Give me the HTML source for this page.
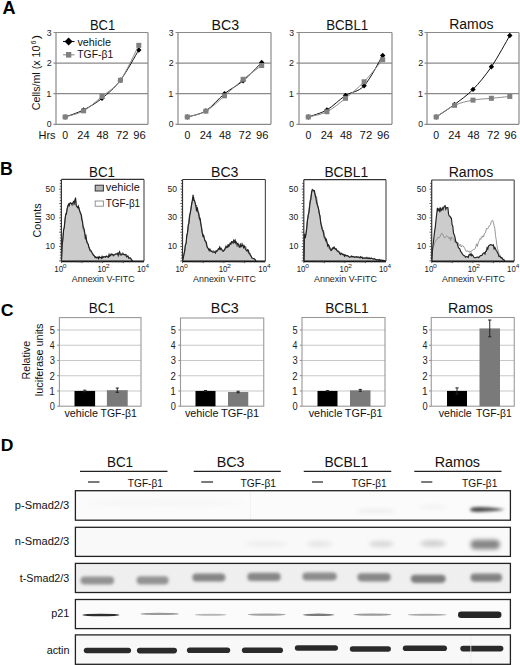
<!DOCTYPE html>
<html><head><meta charset="utf-8"><style>
html,body{margin:0;padding:0;background:#fff;}
svg{display:block;}
text{font-family:"Liberation Sans",sans-serif;}
</style></head><body>
<svg width="520" height="665" viewBox="0 0 520 665">
<rect width="520" height="665" fill="#fff"/>
<text x="2.45" y="13.80" style="font-size:17.5px;font-weight:bold;" fill="#000" textLength="13.04" lengthAdjust="spacingAndGlyphs" >A</text>
<line x1="53.50" y1="93.70" x2="148.00" y2="93.70" stroke="#8a8a8a" stroke-width="1.2" />
<line x1="53.50" y1="63.10" x2="148.00" y2="63.10" stroke="#8a8a8a" stroke-width="1.2" />
<line x1="53.50" y1="32.50" x2="148.00" y2="32.50" stroke="#8a8a8a" stroke-width="1.2" />
<line x1="53.50" y1="124.30" x2="148.00" y2="124.30" stroke="#8a8a8a" stroke-width="1.2" />
<line x1="56.00" y1="32.50" x2="56.00" y2="124.30" stroke="#8a8a8a" stroke-width="1.2" />
<line x1="148.00" y1="32.50" x2="148.00" y2="124.30" stroke="#8a8a8a" stroke-width="1.2" />
<text x="46.75" y="127.40" style="font-size:9px;" fill="#222" textLength="4.80" lengthAdjust="spacingAndGlyphs" >0</text>
<text x="46.39" y="96.80" style="font-size:9px;" fill="#222" textLength="5.24" lengthAdjust="spacingAndGlyphs" >1</text>
<text x="46.65" y="66.20" style="font-size:9px;" fill="#222" textLength="5.01" lengthAdjust="spacingAndGlyphs" >2</text>
<text x="46.75" y="35.60" style="font-size:9px;" fill="#222" textLength="4.85" lengthAdjust="spacingAndGlyphs" >3</text>
<text x="89.96" y="29.60" style="font-size:14px;" fill="#111" textLength="25.23" lengthAdjust="spacingAndGlyphs" >BC1</text>
<text x="62.29" y="138.70" style="font-size:10.5px;" fill="#111" textLength="5.84" lengthAdjust="spacingAndGlyphs" >0</text>
<text x="77.35" y="138.70" style="font-size:10.5px;" fill="#111" textLength="12.31" lengthAdjust="spacingAndGlyphs" >24</text>
<text x="96.53" y="138.70" style="font-size:10.5px;" fill="#111" textLength="12.13" lengthAdjust="spacingAndGlyphs" >48</text>
<text x="115.94" y="138.70" style="font-size:10.5px;" fill="#111" textLength="12.56" lengthAdjust="spacingAndGlyphs" >72</text>
<text x="133.20" y="138.70" style="font-size:10.5px;" fill="#111" textLength="12.43" lengthAdjust="spacingAndGlyphs" >96</text>
<path d="M65.20,116.96 C68.27,115.78 77.47,113.03 83.60,109.92 C89.73,106.81 95.87,103.24 102.00,98.29 C108.13,93.34 114.27,88.29 120.40,80.24 C126.53,72.18 135.73,54.99 138.80,49.94" fill="none" stroke="#111" stroke-width="1"/>
<path d="M65.20,114.26 L67.90,116.96 L65.20,119.66 L62.50,116.96Z" fill="#000"/>
<path d="M83.60,107.22 L86.30,109.92 L83.60,112.62 L80.90,109.92Z" fill="#000"/>
<path d="M102.00,95.59 L104.70,98.29 L102.00,100.99 L99.30,98.29Z" fill="#000"/>
<path d="M120.40,77.54 L123.10,80.24 L120.40,82.94 L117.70,80.24Z" fill="#000"/>
<path d="M138.80,47.24 L141.50,49.94 L138.80,52.64 L136.10,49.94Z" fill="#000"/>
<path d="M65.20,116.96 C68.27,115.94 77.47,114.25 83.60,110.84 C89.73,107.42 95.87,101.55 102.00,96.45 C108.13,91.35 114.27,88.75 120.40,80.24 C126.53,71.72 135.73,51.17 138.80,45.35" fill="none" stroke="#8c8c8c" stroke-width="1"/>
<rect x="62.70" y="114.46" width="5.00" height="5.00" fill="#808080" stroke="none" stroke-width="1" />
<rect x="81.10" y="108.34" width="5.00" height="5.00" fill="#808080" stroke="none" stroke-width="1" />
<rect x="99.50" y="93.95" width="5.00" height="5.00" fill="#808080" stroke="none" stroke-width="1" />
<rect x="117.90" y="77.74" width="5.00" height="5.00" fill="#808080" stroke="none" stroke-width="1" />
<rect x="136.30" y="42.85" width="5.00" height="5.00" fill="#808080" stroke="none" stroke-width="1" />
<line x1="175.50" y1="93.70" x2="271.00" y2="93.70" stroke="#8a8a8a" stroke-width="1.2" />
<line x1="175.50" y1="63.10" x2="271.00" y2="63.10" stroke="#8a8a8a" stroke-width="1.2" />
<line x1="175.50" y1="32.50" x2="271.00" y2="32.50" stroke="#8a8a8a" stroke-width="1.2" />
<line x1="175.50" y1="124.30" x2="271.00" y2="124.30" stroke="#8a8a8a" stroke-width="1.2" />
<line x1="178.00" y1="32.50" x2="178.00" y2="124.30" stroke="#8a8a8a" stroke-width="1.2" />
<line x1="271.00" y1="32.50" x2="271.00" y2="124.30" stroke="#8a8a8a" stroke-width="1.2" />
<text x="168.75" y="127.40" style="font-size:9px;" fill="#222" textLength="4.80" lengthAdjust="spacingAndGlyphs" >0</text>
<text x="168.39" y="96.80" style="font-size:9px;" fill="#222" textLength="5.24" lengthAdjust="spacingAndGlyphs" >1</text>
<text x="168.65" y="66.20" style="font-size:9px;" fill="#222" textLength="5.01" lengthAdjust="spacingAndGlyphs" >2</text>
<text x="168.75" y="35.60" style="font-size:9px;" fill="#222" textLength="4.85" lengthAdjust="spacingAndGlyphs" >3</text>
<text x="211.57" y="29.80" style="font-size:14px;" fill="#111" textLength="27.58" lengthAdjust="spacingAndGlyphs" >BC3</text>
<text x="184.39" y="138.70" style="font-size:10.5px;" fill="#111" textLength="5.84" lengthAdjust="spacingAndGlyphs" >0</text>
<text x="199.65" y="138.70" style="font-size:10.5px;" fill="#111" textLength="12.31" lengthAdjust="spacingAndGlyphs" >24</text>
<text x="219.03" y="138.70" style="font-size:10.5px;" fill="#111" textLength="12.13" lengthAdjust="spacingAndGlyphs" >48</text>
<text x="238.64" y="138.70" style="font-size:10.5px;" fill="#111" textLength="12.56" lengthAdjust="spacingAndGlyphs" >72</text>
<text x="256.10" y="138.70" style="font-size:10.5px;" fill="#111" textLength="12.43" lengthAdjust="spacingAndGlyphs" >96</text>
<path d="M187.30,116.96 C190.40,115.94 199.70,114.71 205.90,110.84 C212.10,106.96 218.30,98.70 224.50,93.70 C230.70,88.70 236.90,86.05 243.10,80.85 C249.30,75.65 258.60,65.55 261.70,62.49" fill="none" stroke="#111" stroke-width="1"/>
<path d="M187.30,114.26 L190.00,116.96 L187.30,119.66 L184.60,116.96Z" fill="#000"/>
<path d="M205.90,108.14 L208.60,110.84 L205.90,113.54 L203.20,110.84Z" fill="#000"/>
<path d="M224.50,91.00 L227.20,93.70 L224.50,96.40 L221.80,93.70Z" fill="#000"/>
<path d="M243.10,78.15 L245.80,80.85 L243.10,83.55 L240.40,80.85Z" fill="#000"/>
<path d="M261.70,59.79 L264.40,62.49 L261.70,65.19 L259.00,62.49Z" fill="#000"/>
<path d="M187.30,116.96 C190.40,115.99 199.70,114.66 205.90,111.14 C212.10,107.62 218.30,101.15 224.50,95.84 C230.70,90.54 236.90,84.37 243.10,79.32 C249.30,74.27 258.60,67.84 261.70,65.55" fill="none" stroke="#8c8c8c" stroke-width="1"/>
<rect x="184.80" y="114.46" width="5.00" height="5.00" fill="#808080" stroke="none" stroke-width="1" />
<rect x="203.40" y="108.64" width="5.00" height="5.00" fill="#808080" stroke="none" stroke-width="1" />
<rect x="222.00" y="93.34" width="5.00" height="5.00" fill="#808080" stroke="none" stroke-width="1" />
<rect x="240.60" y="76.82" width="5.00" height="5.00" fill="#808080" stroke="none" stroke-width="1" />
<rect x="259.20" y="63.05" width="5.00" height="5.00" fill="#808080" stroke="none" stroke-width="1" />
<line x1="296.50" y1="93.70" x2="392.00" y2="93.70" stroke="#8a8a8a" stroke-width="1.2" />
<line x1="296.50" y1="63.10" x2="392.00" y2="63.10" stroke="#8a8a8a" stroke-width="1.2" />
<line x1="296.50" y1="32.50" x2="392.00" y2="32.50" stroke="#8a8a8a" stroke-width="1.2" />
<line x1="296.50" y1="124.30" x2="392.00" y2="124.30" stroke="#8a8a8a" stroke-width="1.2" />
<line x1="299.00" y1="32.50" x2="299.00" y2="124.30" stroke="#8a8a8a" stroke-width="1.2" />
<line x1="392.00" y1="32.50" x2="392.00" y2="124.30" stroke="#8a8a8a" stroke-width="1.2" />
<text x="289.15" y="127.40" style="font-size:9px;" fill="#222" textLength="4.80" lengthAdjust="spacingAndGlyphs" >0</text>
<text x="288.79" y="96.80" style="font-size:9px;" fill="#222" textLength="5.24" lengthAdjust="spacingAndGlyphs" >1</text>
<text x="289.05" y="66.20" style="font-size:9px;" fill="#222" textLength="5.01" lengthAdjust="spacingAndGlyphs" >2</text>
<text x="289.15" y="35.60" style="font-size:9px;" fill="#222" textLength="4.85" lengthAdjust="spacingAndGlyphs" >3</text>
<text x="326.14" y="29.60" style="font-size:14px;" fill="#111" textLength="42.11" lengthAdjust="spacingAndGlyphs" >BCBL1</text>
<text x="305.39" y="138.70" style="font-size:10.5px;" fill="#111" textLength="5.84" lengthAdjust="spacingAndGlyphs" >0</text>
<text x="320.65" y="138.70" style="font-size:10.5px;" fill="#111" textLength="12.31" lengthAdjust="spacingAndGlyphs" >24</text>
<text x="340.03" y="138.70" style="font-size:10.5px;" fill="#111" textLength="12.13" lengthAdjust="spacingAndGlyphs" >48</text>
<text x="359.64" y="138.70" style="font-size:10.5px;" fill="#111" textLength="12.56" lengthAdjust="spacingAndGlyphs" >72</text>
<text x="377.10" y="138.70" style="font-size:10.5px;" fill="#111" textLength="12.43" lengthAdjust="spacingAndGlyphs" >96</text>
<path d="M308.30,116.96 C311.40,115.78 320.70,113.49 326.90,109.92 C333.10,106.35 339.30,99.56 345.50,95.54 C351.70,91.51 357.90,92.42 364.10,85.74 C370.30,79.06 379.60,60.50 382.70,55.45" fill="none" stroke="#111" stroke-width="1"/>
<path d="M308.30,114.26 L311.00,116.96 L308.30,119.66 L305.60,116.96Z" fill="#000"/>
<path d="M326.90,107.22 L329.60,109.92 L326.90,112.62 L324.20,109.92Z" fill="#000"/>
<path d="M345.50,92.84 L348.20,95.54 L345.50,98.24 L342.80,95.54Z" fill="#000"/>
<path d="M364.10,83.04 L366.80,85.74 L364.10,88.44 L361.40,85.74Z" fill="#000"/>
<path d="M382.70,52.75 L385.40,55.45 L382.70,58.15 L380.00,55.45Z" fill="#000"/>
<path d="M308.30,116.96 C311.40,116.09 320.70,114.87 326.90,111.75 C333.10,108.64 339.30,103.29 345.50,98.29 C351.70,93.29 357.90,88.19 364.10,81.77 C370.30,75.34 379.60,63.41 382.70,59.73" fill="none" stroke="#8c8c8c" stroke-width="1"/>
<rect x="305.80" y="114.46" width="5.00" height="5.00" fill="#808080" stroke="none" stroke-width="1" />
<rect x="324.40" y="109.25" width="5.00" height="5.00" fill="#808080" stroke="none" stroke-width="1" />
<rect x="343.00" y="95.79" width="5.00" height="5.00" fill="#808080" stroke="none" stroke-width="1" />
<rect x="361.60" y="79.27" width="5.00" height="5.00" fill="#808080" stroke="none" stroke-width="1" />
<rect x="380.20" y="57.23" width="5.00" height="5.00" fill="#808080" stroke="none" stroke-width="1" />
<line x1="424.50" y1="93.70" x2="519.00" y2="93.70" stroke="#8a8a8a" stroke-width="1.2" />
<line x1="424.50" y1="63.10" x2="519.00" y2="63.10" stroke="#8a8a8a" stroke-width="1.2" />
<line x1="424.50" y1="32.50" x2="519.00" y2="32.50" stroke="#8a8a8a" stroke-width="1.2" />
<line x1="424.50" y1="124.30" x2="519.00" y2="124.30" stroke="#8a8a8a" stroke-width="1.2" />
<line x1="427.00" y1="32.50" x2="427.00" y2="124.30" stroke="#8a8a8a" stroke-width="1.2" />
<line x1="519.00" y1="32.50" x2="519.00" y2="124.30" stroke="#8a8a8a" stroke-width="1.2" />
<text x="418.25" y="127.40" style="font-size:9px;" fill="#222" textLength="4.80" lengthAdjust="spacingAndGlyphs" >0</text>
<text x="417.89" y="96.80" style="font-size:9px;" fill="#222" textLength="5.24" lengthAdjust="spacingAndGlyphs" >1</text>
<text x="418.15" y="66.20" style="font-size:9px;" fill="#222" textLength="5.01" lengthAdjust="spacingAndGlyphs" >2</text>
<text x="418.25" y="35.60" style="font-size:9px;" fill="#222" textLength="4.85" lengthAdjust="spacingAndGlyphs" >3</text>
<text x="449.18" y="29.40" style="font-size:14px;" fill="#111" textLength="44.38" lengthAdjust="spacingAndGlyphs" >Ramos</text>
<text x="433.29" y="138.70" style="font-size:10.5px;" fill="#111" textLength="5.84" lengthAdjust="spacingAndGlyphs" >0</text>
<text x="448.35" y="138.70" style="font-size:10.5px;" fill="#111" textLength="12.31" lengthAdjust="spacingAndGlyphs" >24</text>
<text x="467.53" y="138.70" style="font-size:10.5px;" fill="#111" textLength="12.13" lengthAdjust="spacingAndGlyphs" >48</text>
<text x="486.94" y="138.70" style="font-size:10.5px;" fill="#111" textLength="12.56" lengthAdjust="spacingAndGlyphs" >72</text>
<text x="504.20" y="138.70" style="font-size:10.5px;" fill="#111" textLength="12.43" lengthAdjust="spacingAndGlyphs" >96</text>
<path d="M436.20,116.96 C439.27,114.87 448.47,109.00 454.60,104.41 C460.73,99.82 466.87,95.69 473.00,89.42 C479.13,83.14 485.27,75.75 491.40,66.77 C497.53,57.80 506.73,40.76 509.80,35.56" fill="none" stroke="#111" stroke-width="1"/>
<path d="M436.20,114.26 L438.90,116.96 L436.20,119.66 L433.50,116.96Z" fill="#000"/>
<path d="M454.60,101.71 L457.30,104.41 L454.60,107.11 L451.90,104.41Z" fill="#000"/>
<path d="M473.00,86.72 L475.70,89.42 L473.00,92.12 L470.30,89.42Z" fill="#000"/>
<path d="M491.40,64.07 L494.10,66.77 L491.40,69.47 L488.70,66.77Z" fill="#000"/>
<path d="M509.80,32.86 L512.50,35.56 L509.80,38.26 L507.10,35.56Z" fill="#000"/>
<path d="M436.20,116.96 C439.27,115.02 448.47,108.13 454.60,105.33 C460.73,102.52 466.87,101.30 473.00,100.13 C479.13,98.95 485.27,98.90 491.40,98.29 C497.53,97.68 506.73,96.76 509.80,96.45" fill="none" stroke="#8c8c8c" stroke-width="1"/>
<rect x="433.70" y="114.46" width="5.00" height="5.00" fill="#808080" stroke="none" stroke-width="1" />
<rect x="452.10" y="102.83" width="5.00" height="5.00" fill="#808080" stroke="none" stroke-width="1" />
<rect x="470.50" y="97.63" width="5.00" height="5.00" fill="#808080" stroke="none" stroke-width="1" />
<rect x="488.90" y="95.79" width="5.00" height="5.00" fill="#808080" stroke="none" stroke-width="1" />
<rect x="507.30" y="93.95" width="5.00" height="5.00" fill="#808080" stroke="none" stroke-width="1" />
<text x="38.52" y="138.50" style="font-size:11px;" fill="#111" textLength="17.06" lengthAdjust="spacingAndGlyphs" >Hrs</text>
<text transform="translate(39.70,110.23) rotate(-90)" x="0" y="0" style="font-size:11px" fill="#111" textLength="64.68" lengthAdjust="spacingAndGlyphs">Cells/ml (x 10</text>
<text transform="translate(36.10,44.57) rotate(-90)" x="0" y="0" style="font-size:7.6px" fill="#111" textLength="4.11" lengthAdjust="spacingAndGlyphs">6</text>
<text transform="translate(39.70,39.13) rotate(-90)" x="0" y="0" style="font-size:11px" fill="#111" textLength="4.23" lengthAdjust="spacingAndGlyphs">)</text>
<line x1="63.00" y1="41.50" x2="74.50" y2="41.50" stroke="#111" stroke-width="1.1" />
<path d="M68.6,37.4 L72.6,41.5 L68.6,45.6 L64.6,41.5Z" fill="#000"/>
<line x1="63.00" y1="54.80" x2="74.50" y2="54.80" stroke="#8c8c8c" stroke-width="1.1" />
<rect x="66.00" y="52.00" width="5.30" height="5.60" fill="#808080" stroke="none" stroke-width="1" />
<text x="77.45" y="45.60" style="font-size:10.5px;" fill="#111" textLength="33.47" lengthAdjust="spacingAndGlyphs" >vehicle</text>
<text x="77.29" y="58.30" style="font-size:10.5px;" fill="#111" textLength="35.86" lengthAdjust="spacingAndGlyphs" >TGF-β1</text>
<text x="0.05" y="175.10" style="font-size:17.5px;font-weight:bold;" fill="#000" textLength="12.79" lengthAdjust="spacingAndGlyphs" >B</text>
<text x="89.03" y="177.30" style="font-size:14px;" fill="#111" textLength="25.97" lengthAdjust="spacingAndGlyphs" >BC1</text>
<polygon points="61.50,260.90 62.20,244.79 62.90,239.42 63.60,229.88 64.30,227.03 65.00,219.79 65.70,214.77 66.40,214.22 67.10,209.03 67.80,205.94 68.50,204.25 69.20,205.65 69.90,203.31 70.60,203.07 71.30,203.56 72.00,204.21 72.70,203.14 73.40,201.63 74.10,203.28 74.80,200.53 75.50,198.16 76.20,205.42 76.90,206.72 77.60,207.69 78.30,206.08 79.00,209.05 79.70,210.82 80.40,213.21 81.10,214.54 81.80,219.60 82.50,221.30 83.20,226.97 83.90,228.09 84.60,231.94 85.30,237.79 86.00,236.20 86.70,241.75 87.40,242.90 88.10,243.96 88.80,246.76 89.50,248.80 90.20,250.70 90.90,251.01 91.60,252.05 92.30,253.22 93.00,254.17 93.70,255.49 94.40,255.80 95.10,257.51 95.80,256.81 96.50,257.70 97.20,257.65 97.90,257.03 98.60,258.72 99.30,256.65 100.00,257.52 100.70,257.30 101.40,258.24 102.10,256.36 102.80,257.76 103.50,256.76 104.20,256.95 104.90,256.59 105.60,257.17 106.30,256.14 107.00,256.60 107.70,256.73 108.40,257.27 109.10,254.35 109.80,256.24 110.50,255.44 111.20,254.20 111.90,254.79 112.60,254.36 113.30,255.79 114.00,254.93 114.70,254.43 115.40,254.18 116.10,253.96 116.80,253.74 117.50,253.26 118.20,255.37 118.90,252.75 119.60,251.71 120.30,254.12 121.00,254.10 121.70,254.45 122.40,254.06 123.10,254.10 123.80,254.42 124.50,254.85 125.20,254.36 125.90,254.94 126.60,256.85 127.30,256.50 128.00,256.14 128.70,258.31 129.40,257.97 130.10,257.86 130.80,258.46 131.50,259.76 132.20,260.31 132.60,260.90" fill="#cccccc" stroke="none"/>
<polyline points="61.50,260.90 62.20,243.59 62.90,236.24 63.60,230.48 64.30,227.19 65.00,219.54 65.70,213.06 66.40,212.44 67.10,208.89 67.80,207.22 68.50,204.93 69.20,203.78 69.90,203.15 70.60,202.16 71.30,203.33 72.00,205.70 72.70,205.75 73.40,203.80 74.10,205.11 74.80,202.50 75.50,197.38 76.20,204.51 76.90,206.60 77.60,206.38 78.30,207.37 79.00,206.90 79.70,210.98 80.40,212.20 81.10,214.10 81.80,216.87 82.50,224.19 83.20,229.29 83.90,230.16 84.60,233.20 85.30,235.64 86.00,239.68 86.70,239.76 87.40,243.63 88.10,243.97 88.80,247.22 89.50,248.34 90.20,249.60 90.90,250.00 91.60,251.98 92.30,253.46 93.00,255.22 93.70,255.67 94.40,255.85 95.10,257.17 95.80,258.14 96.50,258.11 97.20,257.88 97.90,257.79 98.60,258.23 99.30,258.01 100.00,257.22 100.70,257.73 101.40,257.21 102.10,256.97 102.80,257.85 103.50,257.54 104.20,256.66 104.90,256.98 105.60,257.10 106.30,256.40 107.00,256.58 107.70,256.90 108.40,255.23 109.10,255.96 109.80,255.75 110.50,255.16 111.20,253.64 111.90,254.80 112.60,254.10 113.30,255.10 114.00,255.19 114.70,254.71 115.40,253.82 116.10,253.70 116.80,254.46 117.50,253.25 118.20,254.30 118.90,254.40 119.60,253.96 120.30,255.81 121.00,254.25 121.70,255.64 122.40,252.84 123.10,252.69 123.80,254.86 124.50,254.63 125.20,254.45 125.90,255.14 126.60,254.57 127.30,255.85 128.00,256.11 128.70,257.02 129.40,258.02 130.10,258.13 130.80,259.03 131.50,259.47 132.20,260.38 132.60,260.90" fill="none" stroke="#6a6a6a" stroke-width="0.9"/>
<polyline points="61.50,260.90 62.20,244.79 62.90,239.42 63.60,229.88 64.30,227.03 65.00,219.79 65.70,214.77 66.40,214.22 67.10,209.03 67.80,205.94 68.50,204.25 69.20,205.65 69.90,203.31 70.60,203.07 71.30,203.56 72.00,204.21 72.70,203.14 73.40,201.63 74.10,203.28 74.80,200.53 75.50,198.16 76.20,205.42 76.90,206.72 77.60,207.69 78.30,206.08 79.00,209.05 79.70,210.82 80.40,213.21 81.10,214.54 81.80,219.60 82.50,221.30 83.20,226.97 83.90,228.09 84.60,231.94 85.30,237.79 86.00,236.20 86.70,241.75 87.40,242.90 88.10,243.96 88.80,246.76 89.50,248.80 90.20,250.70 90.90,251.01 91.60,252.05 92.30,253.22 93.00,254.17 93.70,255.49 94.40,255.80 95.10,257.51 95.80,256.81 96.50,257.70 97.20,257.65 97.90,257.03 98.60,258.72 99.30,256.65 100.00,257.52 100.70,257.30 101.40,258.24 102.10,256.36 102.80,257.76 103.50,256.76 104.20,256.95 104.90,256.59 105.60,257.17 106.30,256.14 107.00,256.60 107.70,256.73 108.40,257.27 109.10,254.35 109.80,256.24 110.50,255.44 111.20,254.20 111.90,254.79 112.60,254.36 113.30,255.79 114.00,254.93 114.70,254.43 115.40,254.18 116.10,253.96 116.80,253.74 117.50,253.26 118.20,255.37 118.90,252.75 119.60,251.71 120.30,254.12 121.00,254.10 121.70,254.45 122.40,254.06 123.10,254.10 123.80,254.42 124.50,254.85 125.20,254.36 125.90,254.94 126.60,256.85 127.30,256.50 128.00,256.14 128.70,258.31 129.40,257.97 130.10,257.86 130.80,258.46 131.50,259.76 132.20,260.31 132.60,260.90" fill="none" stroke="#222" stroke-width="1.15"/>
<line x1="61.40" y1="179.40" x2="144.00" y2="179.40" stroke="#333" stroke-width="1.2" />
<line x1="61.40" y1="179.40" x2="61.40" y2="260.90" stroke="#333" stroke-width="1.2" />
<line x1="144.00" y1="179.40" x2="144.00" y2="260.90" stroke="#555" stroke-width="1.2" />
<line x1="61.40" y1="261.30" x2="144.00" y2="261.30" stroke="#111" stroke-width="1.8" />
<line x1="59.20" y1="260.90" x2="61.40" y2="260.90" stroke="#333" stroke-width="0.8" />
<line x1="59.80" y1="258.03" x2="61.40" y2="258.03" stroke="#333" stroke-width="0.8" />
<line x1="59.80" y1="255.16" x2="61.40" y2="255.16" stroke="#333" stroke-width="0.8" />
<line x1="59.80" y1="252.29" x2="61.40" y2="252.29" stroke="#333" stroke-width="0.8" />
<line x1="59.80" y1="249.42" x2="61.40" y2="249.42" stroke="#333" stroke-width="0.8" />
<line x1="59.20" y1="246.55" x2="61.40" y2="246.55" stroke="#333" stroke-width="0.8" />
<line x1="59.80" y1="243.68" x2="61.40" y2="243.68" stroke="#333" stroke-width="0.8" />
<line x1="59.80" y1="240.81" x2="61.40" y2="240.81" stroke="#333" stroke-width="0.8" />
<line x1="59.80" y1="237.94" x2="61.40" y2="237.94" stroke="#333" stroke-width="0.8" />
<line x1="59.80" y1="235.07" x2="61.40" y2="235.07" stroke="#333" stroke-width="0.8" />
<line x1="59.20" y1="232.20" x2="61.40" y2="232.20" stroke="#333" stroke-width="0.8" />
<line x1="59.80" y1="229.33" x2="61.40" y2="229.33" stroke="#333" stroke-width="0.8" />
<line x1="59.80" y1="226.46" x2="61.40" y2="226.46" stroke="#333" stroke-width="0.8" />
<line x1="59.80" y1="223.59" x2="61.40" y2="223.59" stroke="#333" stroke-width="0.8" />
<line x1="59.80" y1="220.72" x2="61.40" y2="220.72" stroke="#333" stroke-width="0.8" />
<line x1="59.20" y1="217.85" x2="61.40" y2="217.85" stroke="#333" stroke-width="0.8" />
<line x1="59.80" y1="214.98" x2="61.40" y2="214.98" stroke="#333" stroke-width="0.8" />
<line x1="59.80" y1="212.11" x2="61.40" y2="212.11" stroke="#333" stroke-width="0.8" />
<line x1="59.80" y1="209.24" x2="61.40" y2="209.24" stroke="#333" stroke-width="0.8" />
<line x1="59.80" y1="206.37" x2="61.40" y2="206.37" stroke="#333" stroke-width="0.8" />
<line x1="59.20" y1="203.50" x2="61.40" y2="203.50" stroke="#333" stroke-width="0.8" />
<line x1="59.80" y1="200.63" x2="61.40" y2="200.63" stroke="#333" stroke-width="0.8" />
<line x1="59.80" y1="197.76" x2="61.40" y2="197.76" stroke="#333" stroke-width="0.8" />
<line x1="59.80" y1="194.89" x2="61.40" y2="194.89" stroke="#333" stroke-width="0.8" />
<line x1="59.80" y1="192.02" x2="61.40" y2="192.02" stroke="#333" stroke-width="0.8" />
<line x1="59.20" y1="189.15" x2="61.40" y2="189.15" stroke="#333" stroke-width="0.8" />
<line x1="59.80" y1="186.28" x2="61.40" y2="186.28" stroke="#333" stroke-width="0.8" />
<line x1="59.80" y1="183.41" x2="61.40" y2="183.41" stroke="#333" stroke-width="0.8" />
<line x1="59.80" y1="180.54" x2="61.40" y2="180.54" stroke="#333" stroke-width="0.8" />
<line x1="61.40" y1="260.90" x2="61.40" y2="263.10" stroke="#333" stroke-width="0.8" />
<line x1="67.62" y1="260.90" x2="67.62" y2="262.30" stroke="#333" stroke-width="0.8" />
<line x1="71.25" y1="260.90" x2="71.25" y2="262.30" stroke="#333" stroke-width="0.8" />
<line x1="73.83" y1="260.90" x2="73.83" y2="262.30" stroke="#333" stroke-width="0.8" />
<line x1="75.83" y1="260.90" x2="75.83" y2="262.30" stroke="#333" stroke-width="0.8" />
<line x1="77.47" y1="260.90" x2="77.47" y2="262.30" stroke="#333" stroke-width="0.8" />
<line x1="78.85" y1="260.90" x2="78.85" y2="262.30" stroke="#333" stroke-width="0.8" />
<line x1="80.05" y1="260.90" x2="80.05" y2="262.30" stroke="#333" stroke-width="0.8" />
<line x1="81.11" y1="260.90" x2="81.11" y2="262.30" stroke="#333" stroke-width="0.8" />
<line x1="82.05" y1="260.90" x2="82.05" y2="263.10" stroke="#333" stroke-width="0.8" />
<line x1="88.27" y1="260.90" x2="88.27" y2="262.30" stroke="#333" stroke-width="0.8" />
<line x1="91.90" y1="260.90" x2="91.90" y2="262.30" stroke="#333" stroke-width="0.8" />
<line x1="94.48" y1="260.90" x2="94.48" y2="262.30" stroke="#333" stroke-width="0.8" />
<line x1="96.48" y1="260.90" x2="96.48" y2="262.30" stroke="#333" stroke-width="0.8" />
<line x1="98.12" y1="260.90" x2="98.12" y2="262.30" stroke="#333" stroke-width="0.8" />
<line x1="99.50" y1="260.90" x2="99.50" y2="262.30" stroke="#333" stroke-width="0.8" />
<line x1="100.70" y1="260.90" x2="100.70" y2="262.30" stroke="#333" stroke-width="0.8" />
<line x1="101.76" y1="260.90" x2="101.76" y2="262.30" stroke="#333" stroke-width="0.8" />
<line x1="102.70" y1="260.90" x2="102.70" y2="263.10" stroke="#333" stroke-width="0.8" />
<line x1="108.92" y1="260.90" x2="108.92" y2="262.30" stroke="#333" stroke-width="0.8" />
<line x1="112.55" y1="260.90" x2="112.55" y2="262.30" stroke="#333" stroke-width="0.8" />
<line x1="115.13" y1="260.90" x2="115.13" y2="262.30" stroke="#333" stroke-width="0.8" />
<line x1="117.13" y1="260.90" x2="117.13" y2="262.30" stroke="#333" stroke-width="0.8" />
<line x1="118.77" y1="260.90" x2="118.77" y2="262.30" stroke="#333" stroke-width="0.8" />
<line x1="120.15" y1="260.90" x2="120.15" y2="262.30" stroke="#333" stroke-width="0.8" />
<line x1="121.35" y1="260.90" x2="121.35" y2="262.30" stroke="#333" stroke-width="0.8" />
<line x1="122.41" y1="260.90" x2="122.41" y2="262.30" stroke="#333" stroke-width="0.8" />
<line x1="123.35" y1="260.90" x2="123.35" y2="263.10" stroke="#333" stroke-width="0.8" />
<line x1="129.57" y1="260.90" x2="129.57" y2="262.30" stroke="#333" stroke-width="0.8" />
<line x1="133.20" y1="260.90" x2="133.20" y2="262.30" stroke="#333" stroke-width="0.8" />
<line x1="135.78" y1="260.90" x2="135.78" y2="262.30" stroke="#333" stroke-width="0.8" />
<line x1="137.78" y1="260.90" x2="137.78" y2="262.30" stroke="#333" stroke-width="0.8" />
<line x1="139.42" y1="260.90" x2="139.42" y2="262.30" stroke="#333" stroke-width="0.8" />
<line x1="140.80" y1="260.90" x2="140.80" y2="262.30" stroke="#333" stroke-width="0.8" />
<line x1="142.00" y1="260.90" x2="142.00" y2="262.30" stroke="#333" stroke-width="0.8" />
<line x1="143.06" y1="260.90" x2="143.06" y2="262.30" stroke="#333" stroke-width="0.8" />
<text x="45.57" y="248.65" style="font-size:9px;" fill="#222" textLength="9.39" lengthAdjust="spacingAndGlyphs" >10</text>
<text x="45.46" y="220.05" style="font-size:9px;" fill="#222" textLength="9.50" lengthAdjust="spacingAndGlyphs" >30</text>
<text x="45.46" y="191.75" style="font-size:9px;" fill="#222" textLength="9.50" lengthAdjust="spacingAndGlyphs" >50</text>
<text x="54.31" y="271.70" style="font-size:8.5px;" fill="#222" textLength="8.72" lengthAdjust="spacingAndGlyphs" >10</text>
<text x="62.83" y="268.40" style="font-size:5.5px;" fill="#222" textLength="3.75" lengthAdjust="spacingAndGlyphs" >0</text>
<text x="97.41" y="271.70" style="font-size:8.5px;" fill="#222" textLength="8.72" lengthAdjust="spacingAndGlyphs" >10</text>
<text x="105.85" y="268.40" style="font-size:5.5px;" fill="#222" textLength="3.91" lengthAdjust="spacingAndGlyphs" >2</text>
<text x="136.91" y="271.70" style="font-size:8.5px;" fill="#222" textLength="8.72" lengthAdjust="spacingAndGlyphs" >10</text>
<text x="145.54" y="268.40" style="font-size:5.5px;" fill="#222" textLength="3.56" lengthAdjust="spacingAndGlyphs" >4</text>
<text x="71.81" y="281.90" style="font-size:8.5px;" fill="#222" textLength="62.93" lengthAdjust="spacingAndGlyphs" >Annexin V-FITC</text>
<text x="210.97" y="177.30" style="font-size:14px;" fill="#111" textLength="27.47" lengthAdjust="spacingAndGlyphs" >BC3</text>
<polygon points="182.60,260.90 183.30,257.67 184.00,254.00 184.70,250.99 185.40,244.71 186.10,243.49 186.80,235.03 187.50,232.65 188.20,224.89 188.90,223.52 189.60,216.70 190.30,212.43 191.00,208.88 191.70,203.64 192.40,199.80 193.10,194.88 193.80,200.56 194.50,200.60 195.20,203.19 195.90,206.31 196.60,211.29 197.30,207.42 198.00,211.76 198.70,214.08 199.40,218.67 200.10,218.31 200.80,223.13 201.50,227.84 202.20,232.57 202.90,236.19 203.60,235.48 204.30,238.71 205.00,240.59 205.70,241.09 206.40,242.77 207.10,246.73 207.80,247.88 208.50,248.73 209.20,250.52 209.90,249.19 210.60,251.09 211.30,251.25 212.00,251.51 212.70,252.05 213.40,251.90 214.10,252.08 214.80,252.18 215.50,253.11 216.20,250.73 216.90,251.24 217.60,250.32 218.30,248.89 219.00,249.39 219.70,247.33 220.40,249.37 221.10,248.27 221.80,249.27 222.50,250.67 223.20,251.20 223.90,250.59 224.60,249.90 225.30,248.21 226.00,246.83 226.70,247.68 227.40,246.87 228.10,245.04 228.80,246.41 229.50,245.02 230.20,243.20 230.90,244.09 231.60,241.61 232.30,241.82 233.00,242.97 233.70,240.51 234.40,242.03 235.10,240.18 235.80,243.00 236.50,242.36 237.20,244.34 237.90,243.53 238.60,245.28 239.30,247.13 240.00,247.19 240.70,244.44 241.40,246.33 242.10,245.44 242.80,244.93 243.50,247.56 244.20,245.93 244.90,247.70 245.60,249.52 246.30,250.36 247.00,251.00 247.70,249.69 248.40,250.40 249.10,253.48 249.80,253.67 250.50,255.59 251.20,256.06 251.90,258.10 252.60,258.29 253.30,258.51 254.00,258.62 254.70,259.06 255.40,259.97 256.00,260.90" fill="#cccccc" stroke="none"/>
<polyline points="182.60,260.90 183.30,257.80 184.00,254.35 184.70,250.29 185.40,245.17 186.10,243.50 186.80,236.66 187.50,233.12 188.20,227.92 188.90,219.88 189.60,214.07 190.30,213.66 191.00,207.25 191.70,204.67 192.40,200.93 193.10,197.99 193.80,197.09 194.50,201.45 195.20,203.38 195.90,206.33 196.60,205.06 197.30,211.09 198.00,211.88 198.70,212.17 199.40,216.85 200.10,220.94 200.80,224.61 201.50,226.63 202.20,232.32 202.90,234.07 203.60,235.30 204.30,237.82 205.00,241.59 205.70,241.94 206.40,245.18 207.10,246.99 207.80,248.20 208.50,249.77 209.20,249.30 209.90,250.04 210.60,250.15 211.30,250.75 212.00,250.32 212.70,251.22 213.40,250.92 214.10,250.75 214.80,252.08 215.50,251.94 216.20,250.70 216.90,251.54 217.60,250.61 218.30,250.13 219.00,248.12 219.70,246.74 220.40,248.81 221.10,249.28 221.80,250.33 222.50,250.75 223.20,251.56 223.90,249.55 224.60,249.70 225.30,247.58 226.00,245.56 226.70,246.73 227.40,248.05 228.10,244.32 228.80,246.45 229.50,244.11 230.20,243.79 230.90,243.66 231.60,243.29 232.30,241.72 233.00,242.66 233.70,242.75 234.40,242.93 235.10,240.86 235.80,243.91 236.50,245.25 237.20,246.72 237.90,243.69 238.60,245.81 239.30,244.33 240.00,247.11 240.70,246.82 241.40,244.21 242.10,242.83 242.80,245.51 243.50,246.77 244.20,246.19 244.90,247.54 245.60,246.19 246.30,248.57 247.00,250.03 247.70,250.73 248.40,253.04 249.10,252.38 249.80,253.13 250.50,255.94 251.20,256.42 251.90,257.73 252.60,258.26 253.30,258.53 254.00,259.18 254.70,259.52 255.40,259.64 256.00,260.90" fill="none" stroke="#6a6a6a" stroke-width="0.9"/>
<polyline points="182.60,260.90 183.30,257.67 184.00,254.00 184.70,250.99 185.40,244.71 186.10,243.49 186.80,235.03 187.50,232.65 188.20,224.89 188.90,223.52 189.60,216.70 190.30,212.43 191.00,208.88 191.70,203.64 192.40,199.80 193.10,194.88 193.80,200.56 194.50,200.60 195.20,203.19 195.90,206.31 196.60,211.29 197.30,207.42 198.00,211.76 198.70,214.08 199.40,218.67 200.10,218.31 200.80,223.13 201.50,227.84 202.20,232.57 202.90,236.19 203.60,235.48 204.30,238.71 205.00,240.59 205.70,241.09 206.40,242.77 207.10,246.73 207.80,247.88 208.50,248.73 209.20,250.52 209.90,249.19 210.60,251.09 211.30,251.25 212.00,251.51 212.70,252.05 213.40,251.90 214.10,252.08 214.80,252.18 215.50,253.11 216.20,250.73 216.90,251.24 217.60,250.32 218.30,248.89 219.00,249.39 219.70,247.33 220.40,249.37 221.10,248.27 221.80,249.27 222.50,250.67 223.20,251.20 223.90,250.59 224.60,249.90 225.30,248.21 226.00,246.83 226.70,247.68 227.40,246.87 228.10,245.04 228.80,246.41 229.50,245.02 230.20,243.20 230.90,244.09 231.60,241.61 232.30,241.82 233.00,242.97 233.70,240.51 234.40,242.03 235.10,240.18 235.80,243.00 236.50,242.36 237.20,244.34 237.90,243.53 238.60,245.28 239.30,247.13 240.00,247.19 240.70,244.44 241.40,246.33 242.10,245.44 242.80,244.93 243.50,247.56 244.20,245.93 244.90,247.70 245.60,249.52 246.30,250.36 247.00,251.00 247.70,249.69 248.40,250.40 249.10,253.48 249.80,253.67 250.50,255.59 251.20,256.06 251.90,258.10 252.60,258.29 253.30,258.51 254.00,258.62 254.70,259.06 255.40,259.97 256.00,260.90" fill="none" stroke="#222" stroke-width="1.15"/>
<line x1="182.50" y1="179.50" x2="265.40" y2="179.50" stroke="#333" stroke-width="1.2" />
<line x1="182.50" y1="179.50" x2="182.50" y2="260.90" stroke="#333" stroke-width="1.2" />
<line x1="265.40" y1="179.50" x2="265.40" y2="260.90" stroke="#555" stroke-width="1.2" />
<line x1="182.50" y1="261.30" x2="265.40" y2="261.30" stroke="#111" stroke-width="1.8" />
<line x1="180.30" y1="260.90" x2="182.50" y2="260.90" stroke="#333" stroke-width="0.8" />
<line x1="180.90" y1="258.03" x2="182.50" y2="258.03" stroke="#333" stroke-width="0.8" />
<line x1="180.90" y1="255.16" x2="182.50" y2="255.16" stroke="#333" stroke-width="0.8" />
<line x1="180.90" y1="252.29" x2="182.50" y2="252.29" stroke="#333" stroke-width="0.8" />
<line x1="180.90" y1="249.42" x2="182.50" y2="249.42" stroke="#333" stroke-width="0.8" />
<line x1="180.30" y1="246.55" x2="182.50" y2="246.55" stroke="#333" stroke-width="0.8" />
<line x1="180.90" y1="243.68" x2="182.50" y2="243.68" stroke="#333" stroke-width="0.8" />
<line x1="180.90" y1="240.81" x2="182.50" y2="240.81" stroke="#333" stroke-width="0.8" />
<line x1="180.90" y1="237.94" x2="182.50" y2="237.94" stroke="#333" stroke-width="0.8" />
<line x1="180.90" y1="235.07" x2="182.50" y2="235.07" stroke="#333" stroke-width="0.8" />
<line x1="180.30" y1="232.20" x2="182.50" y2="232.20" stroke="#333" stroke-width="0.8" />
<line x1="180.90" y1="229.33" x2="182.50" y2="229.33" stroke="#333" stroke-width="0.8" />
<line x1="180.90" y1="226.46" x2="182.50" y2="226.46" stroke="#333" stroke-width="0.8" />
<line x1="180.90" y1="223.59" x2="182.50" y2="223.59" stroke="#333" stroke-width="0.8" />
<line x1="180.90" y1="220.72" x2="182.50" y2="220.72" stroke="#333" stroke-width="0.8" />
<line x1="180.30" y1="217.85" x2="182.50" y2="217.85" stroke="#333" stroke-width="0.8" />
<line x1="180.90" y1="214.98" x2="182.50" y2="214.98" stroke="#333" stroke-width="0.8" />
<line x1="180.90" y1="212.11" x2="182.50" y2="212.11" stroke="#333" stroke-width="0.8" />
<line x1="180.90" y1="209.24" x2="182.50" y2="209.24" stroke="#333" stroke-width="0.8" />
<line x1="180.90" y1="206.37" x2="182.50" y2="206.37" stroke="#333" stroke-width="0.8" />
<line x1="180.30" y1="203.50" x2="182.50" y2="203.50" stroke="#333" stroke-width="0.8" />
<line x1="180.90" y1="200.63" x2="182.50" y2="200.63" stroke="#333" stroke-width="0.8" />
<line x1="180.90" y1="197.76" x2="182.50" y2="197.76" stroke="#333" stroke-width="0.8" />
<line x1="180.90" y1="194.89" x2="182.50" y2="194.89" stroke="#333" stroke-width="0.8" />
<line x1="180.90" y1="192.02" x2="182.50" y2="192.02" stroke="#333" stroke-width="0.8" />
<line x1="180.30" y1="189.15" x2="182.50" y2="189.15" stroke="#333" stroke-width="0.8" />
<line x1="180.90" y1="186.28" x2="182.50" y2="186.28" stroke="#333" stroke-width="0.8" />
<line x1="180.90" y1="183.41" x2="182.50" y2="183.41" stroke="#333" stroke-width="0.8" />
<line x1="180.90" y1="180.54" x2="182.50" y2="180.54" stroke="#333" stroke-width="0.8" />
<line x1="182.50" y1="260.90" x2="182.50" y2="263.10" stroke="#333" stroke-width="0.8" />
<line x1="188.74" y1="260.90" x2="188.74" y2="262.30" stroke="#333" stroke-width="0.8" />
<line x1="192.39" y1="260.90" x2="192.39" y2="262.30" stroke="#333" stroke-width="0.8" />
<line x1="194.98" y1="260.90" x2="194.98" y2="262.30" stroke="#333" stroke-width="0.8" />
<line x1="196.99" y1="260.90" x2="196.99" y2="262.30" stroke="#333" stroke-width="0.8" />
<line x1="198.63" y1="260.90" x2="198.63" y2="262.30" stroke="#333" stroke-width="0.8" />
<line x1="200.01" y1="260.90" x2="200.01" y2="262.30" stroke="#333" stroke-width="0.8" />
<line x1="201.22" y1="260.90" x2="201.22" y2="262.30" stroke="#333" stroke-width="0.8" />
<line x1="202.28" y1="260.90" x2="202.28" y2="262.30" stroke="#333" stroke-width="0.8" />
<line x1="203.22" y1="260.90" x2="203.22" y2="263.10" stroke="#333" stroke-width="0.8" />
<line x1="209.46" y1="260.90" x2="209.46" y2="262.30" stroke="#333" stroke-width="0.8" />
<line x1="213.11" y1="260.90" x2="213.11" y2="262.30" stroke="#333" stroke-width="0.8" />
<line x1="215.70" y1="260.90" x2="215.70" y2="262.30" stroke="#333" stroke-width="0.8" />
<line x1="217.71" y1="260.90" x2="217.71" y2="262.30" stroke="#333" stroke-width="0.8" />
<line x1="219.35" y1="260.90" x2="219.35" y2="262.30" stroke="#333" stroke-width="0.8" />
<line x1="220.74" y1="260.90" x2="220.74" y2="262.30" stroke="#333" stroke-width="0.8" />
<line x1="221.94" y1="260.90" x2="221.94" y2="262.30" stroke="#333" stroke-width="0.8" />
<line x1="223.00" y1="260.90" x2="223.00" y2="262.30" stroke="#333" stroke-width="0.8" />
<line x1="223.95" y1="260.90" x2="223.95" y2="263.10" stroke="#333" stroke-width="0.8" />
<line x1="230.19" y1="260.90" x2="230.19" y2="262.30" stroke="#333" stroke-width="0.8" />
<line x1="233.84" y1="260.90" x2="233.84" y2="262.30" stroke="#333" stroke-width="0.8" />
<line x1="236.43" y1="260.90" x2="236.43" y2="262.30" stroke="#333" stroke-width="0.8" />
<line x1="238.44" y1="260.90" x2="238.44" y2="262.30" stroke="#333" stroke-width="0.8" />
<line x1="240.08" y1="260.90" x2="240.08" y2="262.30" stroke="#333" stroke-width="0.8" />
<line x1="241.46" y1="260.90" x2="241.46" y2="262.30" stroke="#333" stroke-width="0.8" />
<line x1="242.67" y1="260.90" x2="242.67" y2="262.30" stroke="#333" stroke-width="0.8" />
<line x1="243.73" y1="260.90" x2="243.73" y2="262.30" stroke="#333" stroke-width="0.8" />
<line x1="244.67" y1="260.90" x2="244.67" y2="263.10" stroke="#333" stroke-width="0.8" />
<line x1="250.91" y1="260.90" x2="250.91" y2="262.30" stroke="#333" stroke-width="0.8" />
<line x1="254.56" y1="260.90" x2="254.56" y2="262.30" stroke="#333" stroke-width="0.8" />
<line x1="257.15" y1="260.90" x2="257.15" y2="262.30" stroke="#333" stroke-width="0.8" />
<line x1="259.16" y1="260.90" x2="259.16" y2="262.30" stroke="#333" stroke-width="0.8" />
<line x1="260.80" y1="260.90" x2="260.80" y2="262.30" stroke="#333" stroke-width="0.8" />
<line x1="262.19" y1="260.90" x2="262.19" y2="262.30" stroke="#333" stroke-width="0.8" />
<line x1="263.39" y1="260.90" x2="263.39" y2="262.30" stroke="#333" stroke-width="0.8" />
<line x1="264.45" y1="260.90" x2="264.45" y2="262.30" stroke="#333" stroke-width="0.8" />
<text x="167.67" y="248.65" style="font-size:9px;" fill="#222" textLength="9.39" lengthAdjust="spacingAndGlyphs" >10</text>
<text x="167.56" y="220.05" style="font-size:9px;" fill="#222" textLength="9.50" lengthAdjust="spacingAndGlyphs" >30</text>
<text x="167.56" y="191.75" style="font-size:9px;" fill="#222" textLength="9.50" lengthAdjust="spacingAndGlyphs" >50</text>
<text x="175.41" y="271.70" style="font-size:8.5px;" fill="#222" textLength="8.72" lengthAdjust="spacingAndGlyphs" >10</text>
<text x="183.93" y="268.40" style="font-size:5.5px;" fill="#222" textLength="3.75" lengthAdjust="spacingAndGlyphs" >0</text>
<text x="218.66" y="271.70" style="font-size:8.5px;" fill="#222" textLength="8.72" lengthAdjust="spacingAndGlyphs" >10</text>
<text x="227.10" y="268.40" style="font-size:5.5px;" fill="#222" textLength="3.91" lengthAdjust="spacingAndGlyphs" >2</text>
<text x="258.31" y="271.70" style="font-size:8.5px;" fill="#222" textLength="8.72" lengthAdjust="spacingAndGlyphs" >10</text>
<text x="266.94" y="268.40" style="font-size:5.5px;" fill="#222" textLength="3.56" lengthAdjust="spacingAndGlyphs" >4</text>
<text x="193.06" y="281.90" style="font-size:8.5px;" fill="#222" textLength="62.93" lengthAdjust="spacingAndGlyphs" >Annexin V-FITC</text>
<text x="324.39" y="176.70" style="font-size:14px;" fill="#111" textLength="43.78" lengthAdjust="spacingAndGlyphs" >BCBL1</text>
<polygon points="303.90,260.90 304.60,234.48 305.30,238.19 306.00,233.87 306.70,229.21 307.40,221.15 308.10,215.10 308.80,213.27 309.50,207.77 310.20,201.62 310.90,199.04 311.60,191.76 312.30,189.49 313.00,190.07 313.70,190.49 314.40,190.56 315.10,195.07 315.80,197.73 316.50,201.95 317.20,204.69 317.90,206.19 318.60,209.21 319.30,213.28 320.00,216.72 320.70,222.65 321.40,226.15 322.10,229.13 322.80,230.77 323.50,232.72 324.20,237.07 324.90,237.34 325.60,239.78 326.30,239.30 327.00,242.44 327.70,245.85 328.40,244.72 329.10,245.75 329.80,247.94 330.50,250.12 331.20,250.41 331.90,249.31 332.60,248.67 333.30,248.30 334.00,247.03 334.70,248.63 335.40,249.03 336.10,248.73 336.80,250.22 337.50,251.06 338.20,251.05 338.90,251.33 339.60,253.32 340.30,254.48 341.00,253.35 341.70,253.60 342.40,254.57 343.10,254.42 343.80,254.42 344.50,256.11 345.20,254.87 345.90,255.24 346.60,255.46 347.30,255.52 348.00,256.07 348.70,256.69 349.40,257.33 350.10,257.06 350.80,256.76 351.50,256.12 352.20,256.78 352.90,256.36 353.60,256.83 354.30,257.43 355.00,257.06 355.70,256.88 356.40,256.67 357.10,257.12 357.80,257.27 358.50,256.84 359.20,257.13 359.90,257.88 360.60,256.74 361.30,257.40 362.00,257.13 362.70,258.46 363.40,258.08 364.10,258.11 364.80,258.12 365.50,258.13 366.20,258.20 366.90,257.45 367.60,258.32 368.30,258.52 369.00,257.75 369.70,258.75 370.40,258.74 371.10,257.94 371.80,258.44 372.50,258.65 373.20,258.72 373.90,259.19 374.60,258.77 375.30,259.27 376.00,259.56 376.70,259.85 377.40,259.77 378.10,259.80 378.80,260.14 379.50,259.61 380.20,260.39 380.90,260.23 381.60,260.16 382.30,260.43 383.00,260.34 383.70,260.47 384.40,260.79 385.00,260.90" fill="#cccccc" stroke="none"/>
<polyline points="303.90,260.90 304.60,233.53 305.30,236.54 306.00,233.23 306.70,225.96 307.40,219.85 308.10,218.18 308.80,211.03 309.50,205.39 310.20,200.54 310.90,196.15 311.60,193.42 312.30,191.15 313.00,190.43 313.70,192.08 314.40,192.48 315.10,193.47 315.80,196.02 316.50,196.76 317.20,201.84 317.90,207.19 318.60,209.42 319.30,214.01 320.00,215.11 320.70,221.84 321.40,224.29 322.10,227.24 322.80,230.80 323.50,229.99 324.20,235.17 324.90,236.66 325.60,241.68 326.30,241.01 327.00,242.35 327.70,245.23 328.40,244.69 329.10,248.56 329.80,247.44 330.50,248.55 331.20,248.30 331.90,250.33 332.60,247.16 333.30,249.03 334.00,247.13 334.70,248.65 335.40,248.28 336.10,250.20 336.80,250.86 337.50,251.74 338.20,251.97 338.90,252.66 339.60,253.39 340.30,252.82 341.00,252.72 341.70,253.01 342.40,254.69 343.10,254.33 343.80,255.58 344.50,255.28 345.20,254.89 345.90,256.21 346.60,256.98 347.30,255.92 348.00,255.67 348.70,255.91 349.40,257.03 350.10,256.39 350.80,256.53 351.50,257.14 352.20,256.82 352.90,256.91 353.60,256.60 354.30,256.59 355.00,257.04 355.70,257.07 356.40,257.36 357.10,256.88 357.80,257.39 358.50,257.53 359.20,257.41 359.90,257.73 360.60,258.01 361.30,257.70 362.00,257.71 362.70,257.29 363.40,257.96 364.10,257.83 364.80,257.80 365.50,257.64 366.20,258.32 366.90,259.24 367.60,258.39 368.30,258.31 369.00,258.52 369.70,258.16 370.40,258.51 371.10,258.28 371.80,258.37 372.50,258.85 373.20,259.00 373.90,259.02 374.60,258.93 375.30,259.43 376.00,259.16 376.70,259.86 377.40,259.66 378.10,259.87 378.80,260.17 379.50,260.21 380.20,259.90 380.90,260.24 381.60,260.46 382.30,260.32 383.00,260.26 383.70,260.70 384.40,260.81 385.00,260.90" fill="none" stroke="#6a6a6a" stroke-width="0.9"/>
<polyline points="303.90,260.90 304.60,234.48 305.30,238.19 306.00,233.87 306.70,229.21 307.40,221.15 308.10,215.10 308.80,213.27 309.50,207.77 310.20,201.62 310.90,199.04 311.60,191.76 312.30,189.49 313.00,190.07 313.70,190.49 314.40,190.56 315.10,195.07 315.80,197.73 316.50,201.95 317.20,204.69 317.90,206.19 318.60,209.21 319.30,213.28 320.00,216.72 320.70,222.65 321.40,226.15 322.10,229.13 322.80,230.77 323.50,232.72 324.20,237.07 324.90,237.34 325.60,239.78 326.30,239.30 327.00,242.44 327.70,245.85 328.40,244.72 329.10,245.75 329.80,247.94 330.50,250.12 331.20,250.41 331.90,249.31 332.60,248.67 333.30,248.30 334.00,247.03 334.70,248.63 335.40,249.03 336.10,248.73 336.80,250.22 337.50,251.06 338.20,251.05 338.90,251.33 339.60,253.32 340.30,254.48 341.00,253.35 341.70,253.60 342.40,254.57 343.10,254.42 343.80,254.42 344.50,256.11 345.20,254.87 345.90,255.24 346.60,255.46 347.30,255.52 348.00,256.07 348.70,256.69 349.40,257.33 350.10,257.06 350.80,256.76 351.50,256.12 352.20,256.78 352.90,256.36 353.60,256.83 354.30,257.43 355.00,257.06 355.70,256.88 356.40,256.67 357.10,257.12 357.80,257.27 358.50,256.84 359.20,257.13 359.90,257.88 360.60,256.74 361.30,257.40 362.00,257.13 362.70,258.46 363.40,258.08 364.10,258.11 364.80,258.12 365.50,258.13 366.20,258.20 366.90,257.45 367.60,258.32 368.30,258.52 369.00,257.75 369.70,258.75 370.40,258.74 371.10,257.94 371.80,258.44 372.50,258.65 373.20,258.72 373.90,259.19 374.60,258.77 375.30,259.27 376.00,259.56 376.70,259.85 377.40,259.77 378.10,259.80 378.80,260.14 379.50,259.61 380.20,260.39 380.90,260.23 381.60,260.16 382.30,260.43 383.00,260.34 383.70,260.47 384.40,260.79 385.00,260.90" fill="none" stroke="#222" stroke-width="1.15"/>
<line x1="303.80" y1="179.70" x2="386.00" y2="179.70" stroke="#333" stroke-width="1.2" />
<line x1="303.80" y1="179.70" x2="303.80" y2="260.90" stroke="#333" stroke-width="1.2" />
<line x1="386.00" y1="179.70" x2="386.00" y2="260.90" stroke="#555" stroke-width="1.2" />
<line x1="303.80" y1="261.30" x2="386.00" y2="261.30" stroke="#111" stroke-width="1.8" />
<line x1="301.60" y1="260.90" x2="303.80" y2="260.90" stroke="#333" stroke-width="0.8" />
<line x1="302.20" y1="258.03" x2="303.80" y2="258.03" stroke="#333" stroke-width="0.8" />
<line x1="302.20" y1="255.16" x2="303.80" y2="255.16" stroke="#333" stroke-width="0.8" />
<line x1="302.20" y1="252.29" x2="303.80" y2="252.29" stroke="#333" stroke-width="0.8" />
<line x1="302.20" y1="249.42" x2="303.80" y2="249.42" stroke="#333" stroke-width="0.8" />
<line x1="301.60" y1="246.55" x2="303.80" y2="246.55" stroke="#333" stroke-width="0.8" />
<line x1="302.20" y1="243.68" x2="303.80" y2="243.68" stroke="#333" stroke-width="0.8" />
<line x1="302.20" y1="240.81" x2="303.80" y2="240.81" stroke="#333" stroke-width="0.8" />
<line x1="302.20" y1="237.94" x2="303.80" y2="237.94" stroke="#333" stroke-width="0.8" />
<line x1="302.20" y1="235.07" x2="303.80" y2="235.07" stroke="#333" stroke-width="0.8" />
<line x1="301.60" y1="232.20" x2="303.80" y2="232.20" stroke="#333" stroke-width="0.8" />
<line x1="302.20" y1="229.33" x2="303.80" y2="229.33" stroke="#333" stroke-width="0.8" />
<line x1="302.20" y1="226.46" x2="303.80" y2="226.46" stroke="#333" stroke-width="0.8" />
<line x1="302.20" y1="223.59" x2="303.80" y2="223.59" stroke="#333" stroke-width="0.8" />
<line x1="302.20" y1="220.72" x2="303.80" y2="220.72" stroke="#333" stroke-width="0.8" />
<line x1="301.60" y1="217.85" x2="303.80" y2="217.85" stroke="#333" stroke-width="0.8" />
<line x1="302.20" y1="214.98" x2="303.80" y2="214.98" stroke="#333" stroke-width="0.8" />
<line x1="302.20" y1="212.11" x2="303.80" y2="212.11" stroke="#333" stroke-width="0.8" />
<line x1="302.20" y1="209.24" x2="303.80" y2="209.24" stroke="#333" stroke-width="0.8" />
<line x1="302.20" y1="206.37" x2="303.80" y2="206.37" stroke="#333" stroke-width="0.8" />
<line x1="301.60" y1="203.50" x2="303.80" y2="203.50" stroke="#333" stroke-width="0.8" />
<line x1="302.20" y1="200.63" x2="303.80" y2="200.63" stroke="#333" stroke-width="0.8" />
<line x1="302.20" y1="197.76" x2="303.80" y2="197.76" stroke="#333" stroke-width="0.8" />
<line x1="302.20" y1="194.89" x2="303.80" y2="194.89" stroke="#333" stroke-width="0.8" />
<line x1="302.20" y1="192.02" x2="303.80" y2="192.02" stroke="#333" stroke-width="0.8" />
<line x1="301.60" y1="189.15" x2="303.80" y2="189.15" stroke="#333" stroke-width="0.8" />
<line x1="302.20" y1="186.28" x2="303.80" y2="186.28" stroke="#333" stroke-width="0.8" />
<line x1="302.20" y1="183.41" x2="303.80" y2="183.41" stroke="#333" stroke-width="0.8" />
<line x1="303.80" y1="260.90" x2="303.80" y2="263.10" stroke="#333" stroke-width="0.8" />
<line x1="309.99" y1="260.90" x2="309.99" y2="262.30" stroke="#333" stroke-width="0.8" />
<line x1="313.60" y1="260.90" x2="313.60" y2="262.30" stroke="#333" stroke-width="0.8" />
<line x1="316.17" y1="260.90" x2="316.17" y2="262.30" stroke="#333" stroke-width="0.8" />
<line x1="318.16" y1="260.90" x2="318.16" y2="262.30" stroke="#333" stroke-width="0.8" />
<line x1="319.79" y1="260.90" x2="319.79" y2="262.30" stroke="#333" stroke-width="0.8" />
<line x1="321.17" y1="260.90" x2="321.17" y2="262.30" stroke="#333" stroke-width="0.8" />
<line x1="322.36" y1="260.90" x2="322.36" y2="262.30" stroke="#333" stroke-width="0.8" />
<line x1="323.41" y1="260.90" x2="323.41" y2="262.30" stroke="#333" stroke-width="0.8" />
<line x1="324.35" y1="260.90" x2="324.35" y2="263.10" stroke="#333" stroke-width="0.8" />
<line x1="330.54" y1="260.90" x2="330.54" y2="262.30" stroke="#333" stroke-width="0.8" />
<line x1="334.15" y1="260.90" x2="334.15" y2="262.30" stroke="#333" stroke-width="0.8" />
<line x1="336.72" y1="260.90" x2="336.72" y2="262.30" stroke="#333" stroke-width="0.8" />
<line x1="338.71" y1="260.90" x2="338.71" y2="262.30" stroke="#333" stroke-width="0.8" />
<line x1="340.34" y1="260.90" x2="340.34" y2="262.30" stroke="#333" stroke-width="0.8" />
<line x1="341.72" y1="260.90" x2="341.72" y2="262.30" stroke="#333" stroke-width="0.8" />
<line x1="342.91" y1="260.90" x2="342.91" y2="262.30" stroke="#333" stroke-width="0.8" />
<line x1="343.96" y1="260.90" x2="343.96" y2="262.30" stroke="#333" stroke-width="0.8" />
<line x1="344.90" y1="260.90" x2="344.90" y2="263.10" stroke="#333" stroke-width="0.8" />
<line x1="351.09" y1="260.90" x2="351.09" y2="262.30" stroke="#333" stroke-width="0.8" />
<line x1="354.70" y1="260.90" x2="354.70" y2="262.30" stroke="#333" stroke-width="0.8" />
<line x1="357.27" y1="260.90" x2="357.27" y2="262.30" stroke="#333" stroke-width="0.8" />
<line x1="359.26" y1="260.90" x2="359.26" y2="262.30" stroke="#333" stroke-width="0.8" />
<line x1="360.89" y1="260.90" x2="360.89" y2="262.30" stroke="#333" stroke-width="0.8" />
<line x1="362.27" y1="260.90" x2="362.27" y2="262.30" stroke="#333" stroke-width="0.8" />
<line x1="363.46" y1="260.90" x2="363.46" y2="262.30" stroke="#333" stroke-width="0.8" />
<line x1="364.51" y1="260.90" x2="364.51" y2="262.30" stroke="#333" stroke-width="0.8" />
<line x1="365.45" y1="260.90" x2="365.45" y2="263.10" stroke="#333" stroke-width="0.8" />
<line x1="371.64" y1="260.90" x2="371.64" y2="262.30" stroke="#333" stroke-width="0.8" />
<line x1="375.25" y1="260.90" x2="375.25" y2="262.30" stroke="#333" stroke-width="0.8" />
<line x1="377.82" y1="260.90" x2="377.82" y2="262.30" stroke="#333" stroke-width="0.8" />
<line x1="379.81" y1="260.90" x2="379.81" y2="262.30" stroke="#333" stroke-width="0.8" />
<line x1="381.44" y1="260.90" x2="381.44" y2="262.30" stroke="#333" stroke-width="0.8" />
<line x1="382.82" y1="260.90" x2="382.82" y2="262.30" stroke="#333" stroke-width="0.8" />
<line x1="384.01" y1="260.90" x2="384.01" y2="262.30" stroke="#333" stroke-width="0.8" />
<line x1="385.06" y1="260.90" x2="385.06" y2="262.30" stroke="#333" stroke-width="0.8" />
<text x="288.97" y="248.65" style="font-size:9px;" fill="#222" textLength="9.39" lengthAdjust="spacingAndGlyphs" >10</text>
<text x="288.86" y="220.05" style="font-size:9px;" fill="#222" textLength="9.50" lengthAdjust="spacingAndGlyphs" >30</text>
<text x="288.86" y="191.75" style="font-size:9px;" fill="#222" textLength="9.50" lengthAdjust="spacingAndGlyphs" >50</text>
<text x="296.71" y="271.70" style="font-size:8.5px;" fill="#222" textLength="8.72" lengthAdjust="spacingAndGlyphs" >10</text>
<text x="305.23" y="268.40" style="font-size:5.5px;" fill="#222" textLength="3.75" lengthAdjust="spacingAndGlyphs" >0</text>
<text x="339.61" y="271.70" style="font-size:8.5px;" fill="#222" textLength="8.72" lengthAdjust="spacingAndGlyphs" >10</text>
<text x="348.05" y="268.40" style="font-size:5.5px;" fill="#222" textLength="3.91" lengthAdjust="spacingAndGlyphs" >2</text>
<text x="378.91" y="271.70" style="font-size:8.5px;" fill="#222" textLength="8.72" lengthAdjust="spacingAndGlyphs" >10</text>
<text x="387.54" y="268.40" style="font-size:5.5px;" fill="#222" textLength="3.56" lengthAdjust="spacingAndGlyphs" >4</text>
<text x="314.01" y="281.90" style="font-size:8.5px;" fill="#222" textLength="62.93" lengthAdjust="spacingAndGlyphs" >Annexin V-FITC</text>
<text x="448.67" y="177.10" style="font-size:14px;" fill="#111" textLength="44.58" lengthAdjust="spacingAndGlyphs" >Ramos</text>
<polygon points="431.80,260.80 432.50,250.27 433.20,243.72 433.90,237.53 434.60,231.43 435.30,227.08 436.00,219.92 436.70,214.12 437.40,207.81 438.10,210.48 438.80,209.09 439.50,210.92 440.20,207.31 440.90,210.79 441.60,209.40 442.30,207.97 443.00,209.58 443.70,207.40 444.40,206.14 445.10,205.69 445.80,209.25 446.50,207.73 447.20,207.70 447.90,207.78 448.60,214.40 449.30,216.00 450.00,216.21 450.70,217.85 451.40,218.20 452.10,224.88 452.80,226.18 453.50,233.03 454.20,234.70 454.90,237.00 455.60,240.72 456.30,242.42 457.00,242.62 457.70,245.41 458.40,247.68 459.10,248.27 459.80,248.74 460.50,251.11 461.20,251.99 461.90,253.08 462.60,254.31 463.30,255.04 464.00,255.74 464.70,255.77 465.40,257.23 466.10,256.82 466.80,256.59 467.50,256.77 468.20,257.49 468.90,255.13 469.60,254.34 470.30,255.25 471.00,253.67 471.70,255.64 472.40,254.82 473.10,255.75 473.80,257.09 474.50,257.70 475.20,257.77 475.90,257.69 476.60,257.31 477.30,257.07 478.00,257.09 478.70,257.74 479.40,256.91 480.10,255.97 480.80,255.59 481.50,255.35 482.20,255.04 482.90,253.56 483.60,253.01 484.30,252.72 485.00,253.91 485.70,251.21 486.40,251.17 487.10,247.82 487.80,249.04 488.50,246.02 489.20,245.43 489.90,244.99 490.60,244.62 491.30,244.75 492.00,245.23 492.70,245.36 493.40,244.97 494.10,248.69 494.80,247.36 495.50,248.46 496.20,250.52 496.90,251.34 497.60,252.81 498.30,254.12 499.00,256.44 499.70,256.13 500.40,256.97 501.10,257.95 501.80,257.51 502.50,258.52 503.20,259.65 503.90,259.75 504.60,260.49 505.00,260.80" fill="#cccccc" stroke="none"/>
<polyline points="431.80,260.80 432.50,249.06 433.20,246.09 433.90,245.57 434.60,243.23 435.30,241.20 436.00,240.48 436.70,239.74 437.40,238.47 438.10,237.27 438.80,237.94 439.50,237.47 440.20,236.21 440.90,234.87 441.60,233.21 442.30,233.96 443.00,234.38 443.70,236.41 444.40,237.80 445.10,237.82 445.80,236.66 446.50,236.06 447.20,236.38 447.90,236.52 448.60,237.50 449.30,238.87 450.00,237.30 450.70,240.46 451.40,237.03 452.10,237.57 452.80,238.06 453.50,238.76 454.20,239.72 454.90,242.38 455.60,240.62 456.30,242.93 457.00,242.38 457.70,243.39 458.40,242.87 459.10,246.04 459.80,244.61 460.50,244.51 461.20,247.03 461.90,245.61 462.60,246.02 463.30,246.02 464.00,247.12 464.70,248.34 465.40,250.04 466.10,251.49 466.80,250.99 467.50,250.84 468.20,251.83 468.90,250.80 469.60,252.43 470.30,251.79 471.00,250.77 471.70,251.20 472.40,250.59 473.10,249.50 473.80,249.36 474.50,249.38 475.20,248.78 475.90,246.18 476.60,243.84 477.30,246.57 478.00,243.42 478.70,241.51 479.40,240.50 480.10,238.50 480.80,239.43 481.50,236.79 482.20,237.33 482.90,235.84 483.60,237.08 484.30,233.59 485.00,233.33 485.70,232.11 486.40,228.43 487.10,228.68 487.80,228.89 488.50,227.19 489.20,225.69 489.90,225.48 490.60,224.27 491.30,221.35 492.00,220.66 492.70,220.32 493.40,222.73 494.10,225.56 494.80,228.31 495.50,235.55 496.20,239.44 496.90,245.54 497.60,248.54 498.30,251.84 499.00,253.39 499.70,254.39 500.40,256.47 501.10,258.14 501.80,258.56 502.50,259.36 503.20,259.95 503.90,260.23 504.60,260.79 505.00,260.80" fill="none" stroke="#8a8a8a" stroke-width="0.9"/>
<polyline points="431.80,260.80 432.50,250.27 433.20,243.72 433.90,237.53 434.60,231.43 435.30,227.08 436.00,219.92 436.70,214.12 437.40,207.81 438.10,210.48 438.80,209.09 439.50,210.92 440.20,207.31 440.90,210.79 441.60,209.40 442.30,207.97 443.00,209.58 443.70,207.40 444.40,206.14 445.10,205.69 445.80,209.25 446.50,207.73 447.20,207.70 447.90,207.78 448.60,214.40 449.30,216.00 450.00,216.21 450.70,217.85 451.40,218.20 452.10,224.88 452.80,226.18 453.50,233.03 454.20,234.70 454.90,237.00 455.60,240.72 456.30,242.42 457.00,242.62 457.70,245.41 458.40,247.68 459.10,248.27 459.80,248.74 460.50,251.11 461.20,251.99 461.90,253.08 462.60,254.31 463.30,255.04 464.00,255.74 464.70,255.77 465.40,257.23 466.10,256.82 466.80,256.59 467.50,256.77 468.20,257.49 468.90,255.13 469.60,254.34 470.30,255.25 471.00,253.67 471.70,255.64 472.40,254.82 473.10,255.75 473.80,257.09 474.50,257.70 475.20,257.77 475.90,257.69 476.60,257.31 477.30,257.07 478.00,257.09 478.70,257.74 479.40,256.91 480.10,255.97 480.80,255.59 481.50,255.35 482.20,255.04 482.90,253.56 483.60,253.01 484.30,252.72 485.00,253.91 485.70,251.21 486.40,251.17 487.10,247.82 487.80,249.04 488.50,246.02 489.20,245.43 489.90,244.99 490.60,244.62 491.30,244.75 492.00,245.23 492.70,245.36 493.40,244.97 494.10,248.69 494.80,247.36 495.50,248.46 496.20,250.52 496.90,251.34 497.60,252.81 498.30,254.12 499.00,256.44 499.70,256.13 500.40,256.97 501.10,257.95 501.80,257.51 502.50,258.52 503.20,259.65 503.90,259.75 504.60,260.49 505.00,260.80" fill="none" stroke="#222" stroke-width="1.15"/>
<line x1="431.70" y1="180.00" x2="514.20" y2="180.00" stroke="#333" stroke-width="1.2" />
<line x1="431.70" y1="180.00" x2="431.70" y2="260.90" stroke="#333" stroke-width="1.2" />
<line x1="514.20" y1="180.00" x2="514.20" y2="260.90" stroke="#555" stroke-width="1.2" />
<line x1="431.70" y1="261.30" x2="514.20" y2="261.30" stroke="#111" stroke-width="1.8" />
<line x1="429.50" y1="260.90" x2="431.70" y2="260.90" stroke="#333" stroke-width="0.8" />
<line x1="430.10" y1="258.03" x2="431.70" y2="258.03" stroke="#333" stroke-width="0.8" />
<line x1="430.10" y1="255.16" x2="431.70" y2="255.16" stroke="#333" stroke-width="0.8" />
<line x1="430.10" y1="252.29" x2="431.70" y2="252.29" stroke="#333" stroke-width="0.8" />
<line x1="430.10" y1="249.42" x2="431.70" y2="249.42" stroke="#333" stroke-width="0.8" />
<line x1="429.50" y1="246.55" x2="431.70" y2="246.55" stroke="#333" stroke-width="0.8" />
<line x1="430.10" y1="243.68" x2="431.70" y2="243.68" stroke="#333" stroke-width="0.8" />
<line x1="430.10" y1="240.81" x2="431.70" y2="240.81" stroke="#333" stroke-width="0.8" />
<line x1="430.10" y1="237.94" x2="431.70" y2="237.94" stroke="#333" stroke-width="0.8" />
<line x1="430.10" y1="235.07" x2="431.70" y2="235.07" stroke="#333" stroke-width="0.8" />
<line x1="429.50" y1="232.20" x2="431.70" y2="232.20" stroke="#333" stroke-width="0.8" />
<line x1="430.10" y1="229.33" x2="431.70" y2="229.33" stroke="#333" stroke-width="0.8" />
<line x1="430.10" y1="226.46" x2="431.70" y2="226.46" stroke="#333" stroke-width="0.8" />
<line x1="430.10" y1="223.59" x2="431.70" y2="223.59" stroke="#333" stroke-width="0.8" />
<line x1="430.10" y1="220.72" x2="431.70" y2="220.72" stroke="#333" stroke-width="0.8" />
<line x1="429.50" y1="217.85" x2="431.70" y2="217.85" stroke="#333" stroke-width="0.8" />
<line x1="430.10" y1="214.98" x2="431.70" y2="214.98" stroke="#333" stroke-width="0.8" />
<line x1="430.10" y1="212.11" x2="431.70" y2="212.11" stroke="#333" stroke-width="0.8" />
<line x1="430.10" y1="209.24" x2="431.70" y2="209.24" stroke="#333" stroke-width="0.8" />
<line x1="430.10" y1="206.37" x2="431.70" y2="206.37" stroke="#333" stroke-width="0.8" />
<line x1="429.50" y1="203.50" x2="431.70" y2="203.50" stroke="#333" stroke-width="0.8" />
<line x1="430.10" y1="200.63" x2="431.70" y2="200.63" stroke="#333" stroke-width="0.8" />
<line x1="430.10" y1="197.76" x2="431.70" y2="197.76" stroke="#333" stroke-width="0.8" />
<line x1="430.10" y1="194.89" x2="431.70" y2="194.89" stroke="#333" stroke-width="0.8" />
<line x1="430.10" y1="192.02" x2="431.70" y2="192.02" stroke="#333" stroke-width="0.8" />
<line x1="429.50" y1="189.15" x2="431.70" y2="189.15" stroke="#333" stroke-width="0.8" />
<line x1="430.10" y1="186.28" x2="431.70" y2="186.28" stroke="#333" stroke-width="0.8" />
<line x1="430.10" y1="183.41" x2="431.70" y2="183.41" stroke="#333" stroke-width="0.8" />
<line x1="431.70" y1="260.90" x2="431.70" y2="263.10" stroke="#333" stroke-width="0.8" />
<line x1="437.91" y1="260.90" x2="437.91" y2="262.30" stroke="#333" stroke-width="0.8" />
<line x1="441.54" y1="260.90" x2="441.54" y2="262.30" stroke="#333" stroke-width="0.8" />
<line x1="444.12" y1="260.90" x2="444.12" y2="262.30" stroke="#333" stroke-width="0.8" />
<line x1="446.12" y1="260.90" x2="446.12" y2="262.30" stroke="#333" stroke-width="0.8" />
<line x1="447.75" y1="260.90" x2="447.75" y2="262.30" stroke="#333" stroke-width="0.8" />
<line x1="449.13" y1="260.90" x2="449.13" y2="262.30" stroke="#333" stroke-width="0.8" />
<line x1="450.33" y1="260.90" x2="450.33" y2="262.30" stroke="#333" stroke-width="0.8" />
<line x1="451.38" y1="260.90" x2="451.38" y2="262.30" stroke="#333" stroke-width="0.8" />
<line x1="452.32" y1="260.90" x2="452.32" y2="263.10" stroke="#333" stroke-width="0.8" />
<line x1="458.53" y1="260.90" x2="458.53" y2="262.30" stroke="#333" stroke-width="0.8" />
<line x1="462.17" y1="260.90" x2="462.17" y2="262.30" stroke="#333" stroke-width="0.8" />
<line x1="464.74" y1="260.90" x2="464.74" y2="262.30" stroke="#333" stroke-width="0.8" />
<line x1="466.74" y1="260.90" x2="466.74" y2="262.30" stroke="#333" stroke-width="0.8" />
<line x1="468.37" y1="260.90" x2="468.37" y2="262.30" stroke="#333" stroke-width="0.8" />
<line x1="469.76" y1="260.90" x2="469.76" y2="262.30" stroke="#333" stroke-width="0.8" />
<line x1="470.95" y1="260.90" x2="470.95" y2="262.30" stroke="#333" stroke-width="0.8" />
<line x1="472.01" y1="260.90" x2="472.01" y2="262.30" stroke="#333" stroke-width="0.8" />
<line x1="472.95" y1="260.90" x2="472.95" y2="263.10" stroke="#333" stroke-width="0.8" />
<line x1="479.16" y1="260.90" x2="479.16" y2="262.30" stroke="#333" stroke-width="0.8" />
<line x1="482.79" y1="260.90" x2="482.79" y2="262.30" stroke="#333" stroke-width="0.8" />
<line x1="485.37" y1="260.90" x2="485.37" y2="262.30" stroke="#333" stroke-width="0.8" />
<line x1="487.37" y1="260.90" x2="487.37" y2="262.30" stroke="#333" stroke-width="0.8" />
<line x1="489.00" y1="260.90" x2="489.00" y2="262.30" stroke="#333" stroke-width="0.8" />
<line x1="490.38" y1="260.90" x2="490.38" y2="262.30" stroke="#333" stroke-width="0.8" />
<line x1="491.58" y1="260.90" x2="491.58" y2="262.30" stroke="#333" stroke-width="0.8" />
<line x1="492.63" y1="260.90" x2="492.63" y2="262.30" stroke="#333" stroke-width="0.8" />
<line x1="493.58" y1="260.90" x2="493.58" y2="263.10" stroke="#333" stroke-width="0.8" />
<line x1="499.78" y1="260.90" x2="499.78" y2="262.30" stroke="#333" stroke-width="0.8" />
<line x1="503.42" y1="260.90" x2="503.42" y2="262.30" stroke="#333" stroke-width="0.8" />
<line x1="505.99" y1="260.90" x2="505.99" y2="262.30" stroke="#333" stroke-width="0.8" />
<line x1="507.99" y1="260.90" x2="507.99" y2="262.30" stroke="#333" stroke-width="0.8" />
<line x1="509.62" y1="260.90" x2="509.62" y2="262.30" stroke="#333" stroke-width="0.8" />
<line x1="511.01" y1="260.90" x2="511.01" y2="262.30" stroke="#333" stroke-width="0.8" />
<line x1="512.20" y1="260.90" x2="512.20" y2="262.30" stroke="#333" stroke-width="0.8" />
<line x1="513.26" y1="260.90" x2="513.26" y2="262.30" stroke="#333" stroke-width="0.8" />
<text x="416.77" y="248.65" style="font-size:9px;" fill="#222" textLength="9.39" lengthAdjust="spacingAndGlyphs" >10</text>
<text x="416.66" y="220.05" style="font-size:9px;" fill="#222" textLength="9.50" lengthAdjust="spacingAndGlyphs" >30</text>
<text x="416.66" y="191.75" style="font-size:9px;" fill="#222" textLength="9.50" lengthAdjust="spacingAndGlyphs" >50</text>
<text x="424.61" y="271.70" style="font-size:8.5px;" fill="#222" textLength="8.72" lengthAdjust="spacingAndGlyphs" >10</text>
<text x="433.13" y="268.40" style="font-size:5.5px;" fill="#222" textLength="3.75" lengthAdjust="spacingAndGlyphs" >0</text>
<text x="467.66" y="271.70" style="font-size:8.5px;" fill="#222" textLength="8.72" lengthAdjust="spacingAndGlyphs" >10</text>
<text x="476.10" y="268.40" style="font-size:5.5px;" fill="#222" textLength="3.91" lengthAdjust="spacingAndGlyphs" >2</text>
<text x="507.11" y="271.70" style="font-size:8.5px;" fill="#222" textLength="8.72" lengthAdjust="spacingAndGlyphs" >10</text>
<text x="515.74" y="268.40" style="font-size:5.5px;" fill="#222" textLength="3.56" lengthAdjust="spacingAndGlyphs" >4</text>
<text x="442.06" y="281.90" style="font-size:8.5px;" fill="#222" textLength="62.93" lengthAdjust="spacingAndGlyphs" >Annexin V-FITC</text>
<text transform="translate(40.80,237.54) rotate(-90)" x="0" y="0" style="font-size:10.8px" fill="#111" textLength="34.10" lengthAdjust="spacingAndGlyphs">Counts</text>
<rect x="95.20" y="185.20" width="8.20" height="5.80" fill="#b5b5b5" stroke="#333" stroke-width="1" />
<rect x="95.20" y="201.00" width="8.20" height="5.20" fill="#fff" stroke="#888" stroke-width="0.9" />
<text x="105.85" y="191.40" style="font-size:10.5px;" fill="#111" textLength="33.88" lengthAdjust="spacingAndGlyphs" >vehicle</text>
<text x="105.70" y="206.50" style="font-size:10.5px;" fill="#111" textLength="34.44" lengthAdjust="spacingAndGlyphs" >TGF-β1</text>
<text x="0.89" y="316.30" style="font-size:17px;font-weight:bold;" fill="#000" textLength="12.79" lengthAdjust="spacingAndGlyphs" >C</text>
<text x="88.82" y="312.90" style="font-size:14px;" fill="#111" textLength="26.19" lengthAdjust="spacingAndGlyphs" >BC1</text>
<line x1="59.40" y1="390.95" x2="141.00" y2="390.95" stroke="#c8c8c8" stroke-width="1.1" />
<line x1="59.40" y1="375.70" x2="141.00" y2="375.70" stroke="#c8c8c8" stroke-width="1.1" />
<line x1="59.40" y1="360.45" x2="141.00" y2="360.45" stroke="#c8c8c8" stroke-width="1.1" />
<line x1="59.40" y1="345.20" x2="141.00" y2="345.20" stroke="#c8c8c8" stroke-width="1.1" />
<line x1="59.40" y1="329.95" x2="141.00" y2="329.95" stroke="#c8c8c8" stroke-width="1.1" />
<line x1="57.20" y1="406.20" x2="59.40" y2="406.20" stroke="#888" stroke-width="1" />
<text x="49.63" y="410.10" style="font-size:10px;" fill="#222" textLength="5.15" lengthAdjust="spacingAndGlyphs" >0</text>
<line x1="57.20" y1="390.95" x2="59.40" y2="390.95" stroke="#888" stroke-width="1" />
<text x="49.24" y="394.85" style="font-size:10px;" fill="#222" textLength="5.63" lengthAdjust="spacingAndGlyphs" >1</text>
<line x1="57.20" y1="375.70" x2="59.40" y2="375.70" stroke="#888" stroke-width="1" />
<text x="49.52" y="379.60" style="font-size:10px;" fill="#222" textLength="5.38" lengthAdjust="spacingAndGlyphs" >2</text>
<line x1="57.20" y1="360.45" x2="59.40" y2="360.45" stroke="#888" stroke-width="1" />
<text x="49.63" y="364.35" style="font-size:10px;" fill="#222" textLength="5.21" lengthAdjust="spacingAndGlyphs" >3</text>
<line x1="57.20" y1="345.20" x2="59.40" y2="345.20" stroke="#888" stroke-width="1" />
<text x="49.78" y="349.10" style="font-size:10px;" fill="#222" textLength="4.89" lengthAdjust="spacingAndGlyphs" >4</text>
<line x1="57.20" y1="329.95" x2="59.40" y2="329.95" stroke="#888" stroke-width="1" />
<text x="49.63" y="333.85" style="font-size:10px;" fill="#222" textLength="5.15" lengthAdjust="spacingAndGlyphs" >5</text>
<rect x="59.40" y="317.60" width="81.60" height="88.60" fill="none" stroke="#999" stroke-width="1.1" />
<rect x="74.50" y="390.95" width="20.60" height="15.25" fill="#000" stroke="none" stroke-width="1" />
<line x1="84.80" y1="390.19" x2="84.80" y2="391.71" stroke="#222" stroke-width="1" />
<line x1="83.20" y1="390.19" x2="86.40" y2="390.19" stroke="#222" stroke-width="1" />
<line x1="83.20" y1="391.71" x2="86.40" y2="391.71" stroke="#222" stroke-width="1" />
<rect x="106.90" y="390.19" width="20.80" height="16.01" fill="#7a7a7a" stroke="none" stroke-width="1" />
<line x1="117.30" y1="388.05" x2="117.30" y2="392.32" stroke="#222" stroke-width="1" />
<line x1="115.70" y1="388.05" x2="118.90" y2="388.05" stroke="#222" stroke-width="1" />
<line x1="115.70" y1="392.32" x2="118.90" y2="392.32" stroke="#222" stroke-width="1" />
<text x="64.45" y="417.40" style="font-size:10px;" fill="#111" textLength="33.47" lengthAdjust="spacingAndGlyphs" >vehicle</text>
<text x="100.59" y="417.40" style="font-size:10px;" fill="#111" textLength="36.17" lengthAdjust="spacingAndGlyphs" >TGF-β1</text>
<text x="210.86" y="313.00" style="font-size:14px;" fill="#111" textLength="27.79" lengthAdjust="spacingAndGlyphs" >BC3</text>
<line x1="180.50" y1="390.95" x2="263.75" y2="390.95" stroke="#c8c8c8" stroke-width="1.1" />
<line x1="180.50" y1="375.70" x2="263.75" y2="375.70" stroke="#c8c8c8" stroke-width="1.1" />
<line x1="180.50" y1="360.45" x2="263.75" y2="360.45" stroke="#c8c8c8" stroke-width="1.1" />
<line x1="180.50" y1="345.20" x2="263.75" y2="345.20" stroke="#c8c8c8" stroke-width="1.1" />
<line x1="180.50" y1="329.95" x2="263.75" y2="329.95" stroke="#c8c8c8" stroke-width="1.1" />
<line x1="178.30" y1="406.20" x2="180.50" y2="406.20" stroke="#888" stroke-width="1" />
<text x="170.63" y="410.10" style="font-size:10px;" fill="#222" textLength="5.15" lengthAdjust="spacingAndGlyphs" >0</text>
<line x1="178.30" y1="390.95" x2="180.50" y2="390.95" stroke="#888" stroke-width="1" />
<text x="170.24" y="394.85" style="font-size:10px;" fill="#222" textLength="5.63" lengthAdjust="spacingAndGlyphs" >1</text>
<line x1="178.30" y1="375.70" x2="180.50" y2="375.70" stroke="#888" stroke-width="1" />
<text x="170.52" y="379.60" style="font-size:10px;" fill="#222" textLength="5.38" lengthAdjust="spacingAndGlyphs" >2</text>
<line x1="178.30" y1="360.45" x2="180.50" y2="360.45" stroke="#888" stroke-width="1" />
<text x="170.63" y="364.35" style="font-size:10px;" fill="#222" textLength="5.21" lengthAdjust="spacingAndGlyphs" >3</text>
<line x1="178.30" y1="345.20" x2="180.50" y2="345.20" stroke="#888" stroke-width="1" />
<text x="170.78" y="349.10" style="font-size:10px;" fill="#222" textLength="4.89" lengthAdjust="spacingAndGlyphs" >4</text>
<line x1="178.30" y1="329.95" x2="180.50" y2="329.95" stroke="#888" stroke-width="1" />
<text x="170.63" y="333.85" style="font-size:10px;" fill="#222" textLength="5.15" lengthAdjust="spacingAndGlyphs" >5</text>
<rect x="180.50" y="318.00" width="83.25" height="88.20" fill="none" stroke="#999" stroke-width="1.1" />
<rect x="195.50" y="390.95" width="20.00" height="15.25" fill="#000" stroke="none" stroke-width="1" />
<line x1="205.50" y1="390.49" x2="205.50" y2="391.41" stroke="#222" stroke-width="1" />
<line x1="203.90" y1="390.49" x2="207.10" y2="390.49" stroke="#222" stroke-width="1" />
<line x1="203.90" y1="391.41" x2="207.10" y2="391.41" stroke="#222" stroke-width="1" />
<rect x="228.00" y="392.02" width="20.25" height="14.18" fill="#7a7a7a" stroke="none" stroke-width="1" />
<line x1="238.12" y1="391.25" x2="238.12" y2="392.78" stroke="#222" stroke-width="1" />
<line x1="236.53" y1="391.25" x2="239.72" y2="391.25" stroke="#222" stroke-width="1" />
<line x1="236.53" y1="392.78" x2="239.72" y2="392.78" stroke="#222" stroke-width="1" />
<text x="184.95" y="417.40" style="font-size:10px;" fill="#111" textLength="33.57" lengthAdjust="spacingAndGlyphs" >vehicle</text>
<text x="221.03" y="417.40" style="font-size:10px;" fill="#111" textLength="38.21" lengthAdjust="spacingAndGlyphs" >TGF-β1</text>
<text x="325.15" y="313.00" style="font-size:14px;" fill="#111" textLength="43.52" lengthAdjust="spacingAndGlyphs" >BCBL1</text>
<line x1="302.00" y1="390.95" x2="385.00" y2="390.95" stroke="#c8c8c8" stroke-width="1.1" />
<line x1="302.00" y1="375.70" x2="385.00" y2="375.70" stroke="#c8c8c8" stroke-width="1.1" />
<line x1="302.00" y1="360.45" x2="385.00" y2="360.45" stroke="#c8c8c8" stroke-width="1.1" />
<line x1="302.00" y1="345.20" x2="385.00" y2="345.20" stroke="#c8c8c8" stroke-width="1.1" />
<line x1="302.00" y1="329.95" x2="385.00" y2="329.95" stroke="#c8c8c8" stroke-width="1.1" />
<line x1="299.80" y1="406.20" x2="302.00" y2="406.20" stroke="#888" stroke-width="1" />
<text x="292.43" y="410.10" style="font-size:10px;" fill="#222" textLength="5.15" lengthAdjust="spacingAndGlyphs" >0</text>
<line x1="299.80" y1="390.95" x2="302.00" y2="390.95" stroke="#888" stroke-width="1" />
<text x="292.04" y="394.85" style="font-size:10px;" fill="#222" textLength="5.63" lengthAdjust="spacingAndGlyphs" >1</text>
<line x1="299.80" y1="375.70" x2="302.00" y2="375.70" stroke="#888" stroke-width="1" />
<text x="292.32" y="379.60" style="font-size:10px;" fill="#222" textLength="5.38" lengthAdjust="spacingAndGlyphs" >2</text>
<line x1="299.80" y1="360.45" x2="302.00" y2="360.45" stroke="#888" stroke-width="1" />
<text x="292.43" y="364.35" style="font-size:10px;" fill="#222" textLength="5.21" lengthAdjust="spacingAndGlyphs" >3</text>
<line x1="299.80" y1="345.20" x2="302.00" y2="345.20" stroke="#888" stroke-width="1" />
<text x="292.58" y="349.10" style="font-size:10px;" fill="#222" textLength="4.89" lengthAdjust="spacingAndGlyphs" >4</text>
<line x1="299.80" y1="329.95" x2="302.00" y2="329.95" stroke="#888" stroke-width="1" />
<text x="292.43" y="333.85" style="font-size:10px;" fill="#222" textLength="5.15" lengthAdjust="spacingAndGlyphs" >5</text>
<rect x="302.00" y="317.50" width="83.00" height="88.70" fill="none" stroke="#999" stroke-width="1.1" />
<rect x="317.50" y="390.95" width="20.00" height="15.25" fill="#000" stroke="none" stroke-width="1" />
<line x1="327.50" y1="390.64" x2="327.50" y2="391.25" stroke="#222" stroke-width="1" />
<line x1="325.90" y1="390.64" x2="329.10" y2="390.64" stroke="#222" stroke-width="1" />
<line x1="325.90" y1="391.25" x2="329.10" y2="391.25" stroke="#222" stroke-width="1" />
<rect x="350.00" y="390.34" width="20.50" height="15.86" fill="#7a7a7a" stroke="none" stroke-width="1" />
<line x1="360.25" y1="389.42" x2="360.25" y2="391.25" stroke="#222" stroke-width="1" />
<line x1="358.65" y1="389.42" x2="361.85" y2="389.42" stroke="#222" stroke-width="1" />
<line x1="358.65" y1="391.25" x2="361.85" y2="391.25" stroke="#222" stroke-width="1" />
<text x="308.70" y="417.40" style="font-size:10px;" fill="#111" textLength="33.82" lengthAdjust="spacingAndGlyphs" >vehicle</text>
<text x="344.78" y="417.40" style="font-size:10px;" fill="#111" textLength="37.70" lengthAdjust="spacingAndGlyphs" >TGF-β1</text>
<text x="448.12" y="313.00" style="font-size:14px;" fill="#111" textLength="44.84" lengthAdjust="spacingAndGlyphs" >Ramos</text>
<line x1="431.25" y1="390.95" x2="514.25" y2="390.95" stroke="#c8c8c8" stroke-width="1.1" />
<line x1="431.25" y1="375.70" x2="514.25" y2="375.70" stroke="#c8c8c8" stroke-width="1.1" />
<line x1="431.25" y1="360.45" x2="514.25" y2="360.45" stroke="#c8c8c8" stroke-width="1.1" />
<line x1="431.25" y1="345.20" x2="514.25" y2="345.20" stroke="#c8c8c8" stroke-width="1.1" />
<line x1="431.25" y1="329.95" x2="514.25" y2="329.95" stroke="#c8c8c8" stroke-width="1.1" />
<line x1="429.05" y1="406.20" x2="431.25" y2="406.20" stroke="#888" stroke-width="1" />
<text x="422.43" y="410.10" style="font-size:10px;" fill="#222" textLength="5.15" lengthAdjust="spacingAndGlyphs" >0</text>
<line x1="429.05" y1="390.95" x2="431.25" y2="390.95" stroke="#888" stroke-width="1" />
<text x="422.04" y="394.85" style="font-size:10px;" fill="#222" textLength="5.63" lengthAdjust="spacingAndGlyphs" >1</text>
<line x1="429.05" y1="375.70" x2="431.25" y2="375.70" stroke="#888" stroke-width="1" />
<text x="422.32" y="379.60" style="font-size:10px;" fill="#222" textLength="5.38" lengthAdjust="spacingAndGlyphs" >2</text>
<line x1="429.05" y1="360.45" x2="431.25" y2="360.45" stroke="#888" stroke-width="1" />
<text x="422.43" y="364.35" style="font-size:10px;" fill="#222" textLength="5.21" lengthAdjust="spacingAndGlyphs" >3</text>
<line x1="429.05" y1="345.20" x2="431.25" y2="345.20" stroke="#888" stroke-width="1" />
<text x="422.58" y="349.10" style="font-size:10px;" fill="#222" textLength="4.89" lengthAdjust="spacingAndGlyphs" >4</text>
<line x1="429.05" y1="329.95" x2="431.25" y2="329.95" stroke="#888" stroke-width="1" />
<text x="422.43" y="333.85" style="font-size:10px;" fill="#222" textLength="5.15" lengthAdjust="spacingAndGlyphs" >5</text>
<rect x="431.25" y="317.50" width="83.00" height="88.70" fill="none" stroke="#999" stroke-width="1.1" />
<rect x="447.00" y="390.95" width="20.00" height="15.25" fill="#000" stroke="none" stroke-width="1" />
<line x1="457.00" y1="387.90" x2="457.00" y2="394.00" stroke="#222" stroke-width="1" />
<line x1="455.40" y1="387.90" x2="458.60" y2="387.90" stroke="#222" stroke-width="1" />
<line x1="455.40" y1="394.00" x2="458.60" y2="394.00" stroke="#222" stroke-width="1" />
<rect x="479.50" y="328.43" width="20.50" height="77.77" fill="#7a7a7a" stroke="none" stroke-width="1" />
<line x1="489.75" y1="320.04" x2="489.75" y2="336.81" stroke="#222" stroke-width="1" />
<line x1="488.15" y1="320.04" x2="491.35" y2="320.04" stroke="#222" stroke-width="1" />
<line x1="488.15" y1="336.81" x2="491.35" y2="336.81" stroke="#222" stroke-width="1" />
<text x="438.70" y="417.40" style="font-size:10px;" fill="#111" textLength="33.06" lengthAdjust="spacingAndGlyphs" >vehicle</text>
<text x="476.04" y="417.40" style="font-size:10px;" fill="#111" textLength="35.66" lengthAdjust="spacingAndGlyphs" >TGF-β1</text>
<text transform="translate(29.90,379.45) rotate(-90)" x="0" y="0" style="font-size:10.8px" fill="#111" textLength="38.57" lengthAdjust="spacingAndGlyphs">Relative</text>
<text transform="translate(43.40,396.21) rotate(-90)" x="0" y="0" style="font-size:10.8px" fill="#111" textLength="72.79" lengthAdjust="spacingAndGlyphs">luciferase units</text>
<text x="0.66" y="451.20" style="font-size:17px;font-weight:bold;" fill="#000" textLength="12.68" lengthAdjust="spacingAndGlyphs" >D</text>
<text x="106.92" y="467.00" style="font-size:14px;" fill="#111" textLength="26.19" lengthAdjust="spacingAndGlyphs" >BC1</text>
<line x1="80.00" y1="471.40" x2="167.50" y2="471.40" stroke="#222" stroke-width="1.1" />
<line x1="88.00" y1="482.00" x2="99.50" y2="482.00" stroke="#222" stroke-width="1.2" />
<text x="127.80" y="487.00" style="font-size:10px;" fill="#111" textLength="35.15" lengthAdjust="spacingAndGlyphs" >TGF-β1</text>
<text x="216.65" y="467.00" style="font-size:14px;" fill="#111" textLength="27.90" lengthAdjust="spacingAndGlyphs" >BC3</text>
<line x1="193.70" y1="471.40" x2="280.80" y2="471.40" stroke="#222" stroke-width="1.1" />
<line x1="201.20" y1="482.00" x2="213.10" y2="482.00" stroke="#222" stroke-width="1.2" />
<text x="240.49" y="487.00" style="font-size:10px;" fill="#111" textLength="35.56" lengthAdjust="spacingAndGlyphs" >TGF-β1</text>
<text x="324.39" y="467.00" style="font-size:14px;" fill="#111" textLength="43.78" lengthAdjust="spacingAndGlyphs" >BCBL1</text>
<line x1="303.75" y1="471.40" x2="391.25" y2="471.40" stroke="#222" stroke-width="1.1" />
<line x1="312.00" y1="482.00" x2="323.00" y2="482.00" stroke="#222" stroke-width="1.2" />
<text x="351.80" y="487.00" style="font-size:10px;" fill="#111" textLength="34.89" lengthAdjust="spacingAndGlyphs" >TGF-β1</text>
<text x="434.65" y="467.00" style="font-size:14px;" fill="#111" textLength="45.41" lengthAdjust="spacingAndGlyphs" >Ramos</text>
<line x1="414.30" y1="471.40" x2="501.50" y2="471.40" stroke="#222" stroke-width="1.1" />
<line x1="421.20" y1="482.00" x2="432.30" y2="482.00" stroke="#222" stroke-width="1.2" />
<text x="462.10" y="487.00" style="font-size:10px;" fill="#111" textLength="35.25" lengthAdjust="spacingAndGlyphs" >TGF-β1</text>
<defs><filter id="b1" x="-50%" y="-100%" width="200%" height="300%"><feGaussianBlur stdDeviation="1.4"/></filter><filter id="b2" x="-50%" y="-100%" width="200%" height="300%"><feGaussianBlur stdDeviation="2.2"/></filter><filter id="b3" x="-50%" y="-100%" width="200%" height="300%"><feGaussianBlur stdDeviation="1.7"/></filter><filter id="b0" x="-50%" y="-100%" width="200%" height="300%"><feGaussianBlur stdDeviation="0.7"/></filter></defs>
<rect x="75.40" y="490.70" width="435.00" height="29.50" fill="#fbfbfb" stroke="none" stroke-width="1" />
<text x="14.88" y="509.40" style="font-size:10.8px;" fill="#111" textLength="54.44" lengthAdjust="spacingAndGlyphs" >p-Smad2/3</text>
<rect x="75.40" y="527.30" width="435.00" height="29.10" fill="#f9f9f9" stroke="none" stroke-width="1" />
<text x="14.88" y="544.90" style="font-size:10.8px;" fill="#111" textLength="54.44" lengthAdjust="spacingAndGlyphs" >n-Smad2/3</text>
<rect x="75.40" y="563.40" width="435.00" height="29.10" fill="#efefef" stroke="none" stroke-width="1" />
<text x="19.74" y="581.90" style="font-size:10.8px;" fill="#111" textLength="49.58" lengthAdjust="spacingAndGlyphs" >t-Smad2/3</text>
<rect x="75.40" y="599.50" width="435.00" height="29.10" fill="#fbfbfb" stroke="none" stroke-width="1" />
<text x="51.19" y="617.00" style="font-size:10.8px;" fill="#111" textLength="18.13" lengthAdjust="spacingAndGlyphs" >p21</text>
<rect x="75.40" y="634.90" width="435.00" height="29.40" fill="#f8f8f8" stroke="none" stroke-width="1" />
<text x="46.67" y="653.60" style="font-size:10.8px;" fill="#111" textLength="22.86" lengthAdjust="spacingAndGlyphs" >actin</text>
<ellipse cx="376.00" cy="511.00" rx="20.00" ry="1.50" fill="#e6e6e6" opacity="1" filter="url(#b2)"/>
<ellipse cx="433.00" cy="507.00" rx="13.00" ry="1.50" fill="#ededed" opacity="1" filter="url(#b2)"/>
<path d="M470,509.6 C470.5,506.8 479,506.6 490,507.6 C497,508.2 502,508.8 504.5,509.5 C500,510.6 490,511.5 480,512 C473.5,512.3 470,511.6 470,509.6Z" fill="#4d4d4d" filter="url(#b1)"/>
<ellipse cx="319.50" cy="544.00" rx="12.50" ry="3.25" fill="#e6e6e6" opacity="1" filter="url(#b2)"/>
<ellipse cx="265.50" cy="544.00" rx="21.50" ry="3.00" fill="#eeeeee" opacity="1" filter="url(#b2)"/>
<ellipse cx="381.50" cy="544.00" rx="12.50" ry="3.25" fill="#d9d9d9" opacity="1" filter="url(#b2)"/>
<ellipse cx="433.00" cy="543.50" rx="13.00" ry="3.25" fill="#cfcfcf" opacity="1" filter="url(#b2)"/>
<rect x="470.50" y="539.85" width="29.50" height="9.50" rx="4.75" ry="4.75" fill="#858585" opacity="1" filter="url(#b2)"/>
<rect x="80.50" y="576.40" width="33.60" height="8.20" rx="4.10" ry="4.10" fill="#929292" opacity="1" filter="url(#b1)"/>
<rect x="136.60" y="576.30" width="32.00" height="8.20" rx="4.10" ry="4.10" fill="#939393" opacity="1" filter="url(#b1)"/>
<rect x="192.30" y="573.40" width="33.10" height="8.20" rx="4.10" ry="4.10" fill="#858585" opacity="1" filter="url(#b1)"/>
<rect x="247.40" y="572.80" width="33.30" height="8.20" rx="4.10" ry="4.10" fill="#878787" opacity="1" filter="url(#b1)"/>
<rect x="302.40" y="572.40" width="34.40" height="8.20" rx="4.10" ry="4.10" fill="#8c8c8c" opacity="1" filter="url(#b1)"/>
<rect x="357.40" y="573.20" width="33.30" height="8.20" rx="4.10" ry="4.10" fill="#888" opacity="1" filter="url(#b1)"/>
<rect x="410.80" y="574.70" width="34.90" height="8.20" rx="4.10" ry="4.10" fill="#7e7e7e" opacity="1" filter="url(#b1)"/>
<rect x="470.50" y="573.60" width="31.60" height="8.20" rx="4.10" ry="4.10" fill="#838383" opacity="1" filter="url(#b1)"/>
<ellipse cx="100.90" cy="615.00" rx="18.50" ry="1.30" fill="#2e2e2e" opacity="1" filter="url(#b0)"/>
<ellipse cx="159.65" cy="613.90" rx="19.05" ry="1.10" fill="#999" opacity="1" filter="url(#b0)"/>
<ellipse cx="210.65" cy="614.80" rx="15.85" ry="1.00" fill="#b5b5b5" opacity="1" filter="url(#b0)"/>
<ellipse cx="266.75" cy="614.60" rx="19.05" ry="1.10" fill="#a0a0a0" opacity="1" filter="url(#b0)"/>
<ellipse cx="318.55" cy="614.80" rx="15.85" ry="1.20" fill="#7a7a7a" opacity="1" filter="url(#b0)"/>
<ellipse cx="372.45" cy="614.60" rx="19.05" ry="1.10" fill="#9a9a9a" opacity="1" filter="url(#b0)"/>
<ellipse cx="427.10" cy="614.70" rx="19.40" ry="1.00" fill="#a8a8a8" opacity="1" filter="url(#b0)"/>
<rect x="458.00" y="611.50" width="43.50" height="6.40" rx="3.20" ry="3.20" fill="#252525" opacity="1" filter="url(#b0)"/>
<rect x="83.80" y="647.70" width="47.30" height="5.60" rx="2.80" ry="2.80" fill="#2c2c2c" opacity="1" filter="url(#b0)"/>
<rect x="136.90" y="647.80" width="40.10" height="5.60" rx="2.80" ry="2.80" fill="#2c2c2c" opacity="1" filter="url(#b0)"/>
<rect x="186.90" y="647.40" width="43.30" height="5.60" rx="2.80" ry="2.80" fill="#2c2c2c" opacity="1" filter="url(#b0)"/>
<rect x="241.90" y="647.40" width="41.10" height="5.60" rx="2.80" ry="2.80" fill="#2c2c2c" opacity="1" filter="url(#b0)"/>
<rect x="294.80" y="645.20" width="43.20" height="5.60" rx="2.80" ry="2.80" fill="#2c2c2c" opacity="1" filter="url(#b0)"/>
<rect x="349.80" y="646.20" width="41.10" height="5.60" rx="2.80" ry="2.80" fill="#2c2c2c" opacity="1" filter="url(#b0)"/>
<rect x="402.80" y="645.40" width="44.20" height="5.60" rx="2.80" ry="2.80" fill="#2c2c2c" opacity="1" filter="url(#b0)"/>
<rect x="460.30" y="645.80" width="43.10" height="5.60" rx="2.80" ry="2.80" fill="#2c2c2c" opacity="1" filter="url(#b0)"/>
<line x1="250.50" y1="492.00" x2="250.50" y2="519.00" stroke="#f0f0f0" stroke-width="0.8" />
<line x1="470.80" y1="636.00" x2="470.80" y2="663.00" stroke="#ececec" stroke-width="0.8" />
<ellipse cx="165.00" cy="503.00" rx="80.00" ry="4.00" fill="#f7f7f7" opacity="1" filter="url(#b2)"/>
<rect x="75.40" y="490.70" width="435.00" height="29.50" fill="none" stroke="#222" stroke-width="1.3" />
<rect x="75.40" y="527.30" width="435.00" height="29.10" fill="none" stroke="#222" stroke-width="1.3" />
<rect x="75.40" y="563.40" width="435.00" height="29.10" fill="none" stroke="#222" stroke-width="1.3" />
<rect x="75.40" y="599.50" width="435.00" height="29.10" fill="none" stroke="#222" stroke-width="1.3" />
<rect x="75.40" y="634.90" width="435.00" height="29.40" fill="none" stroke="#222" stroke-width="1.3" />
</svg>
</body></html>
